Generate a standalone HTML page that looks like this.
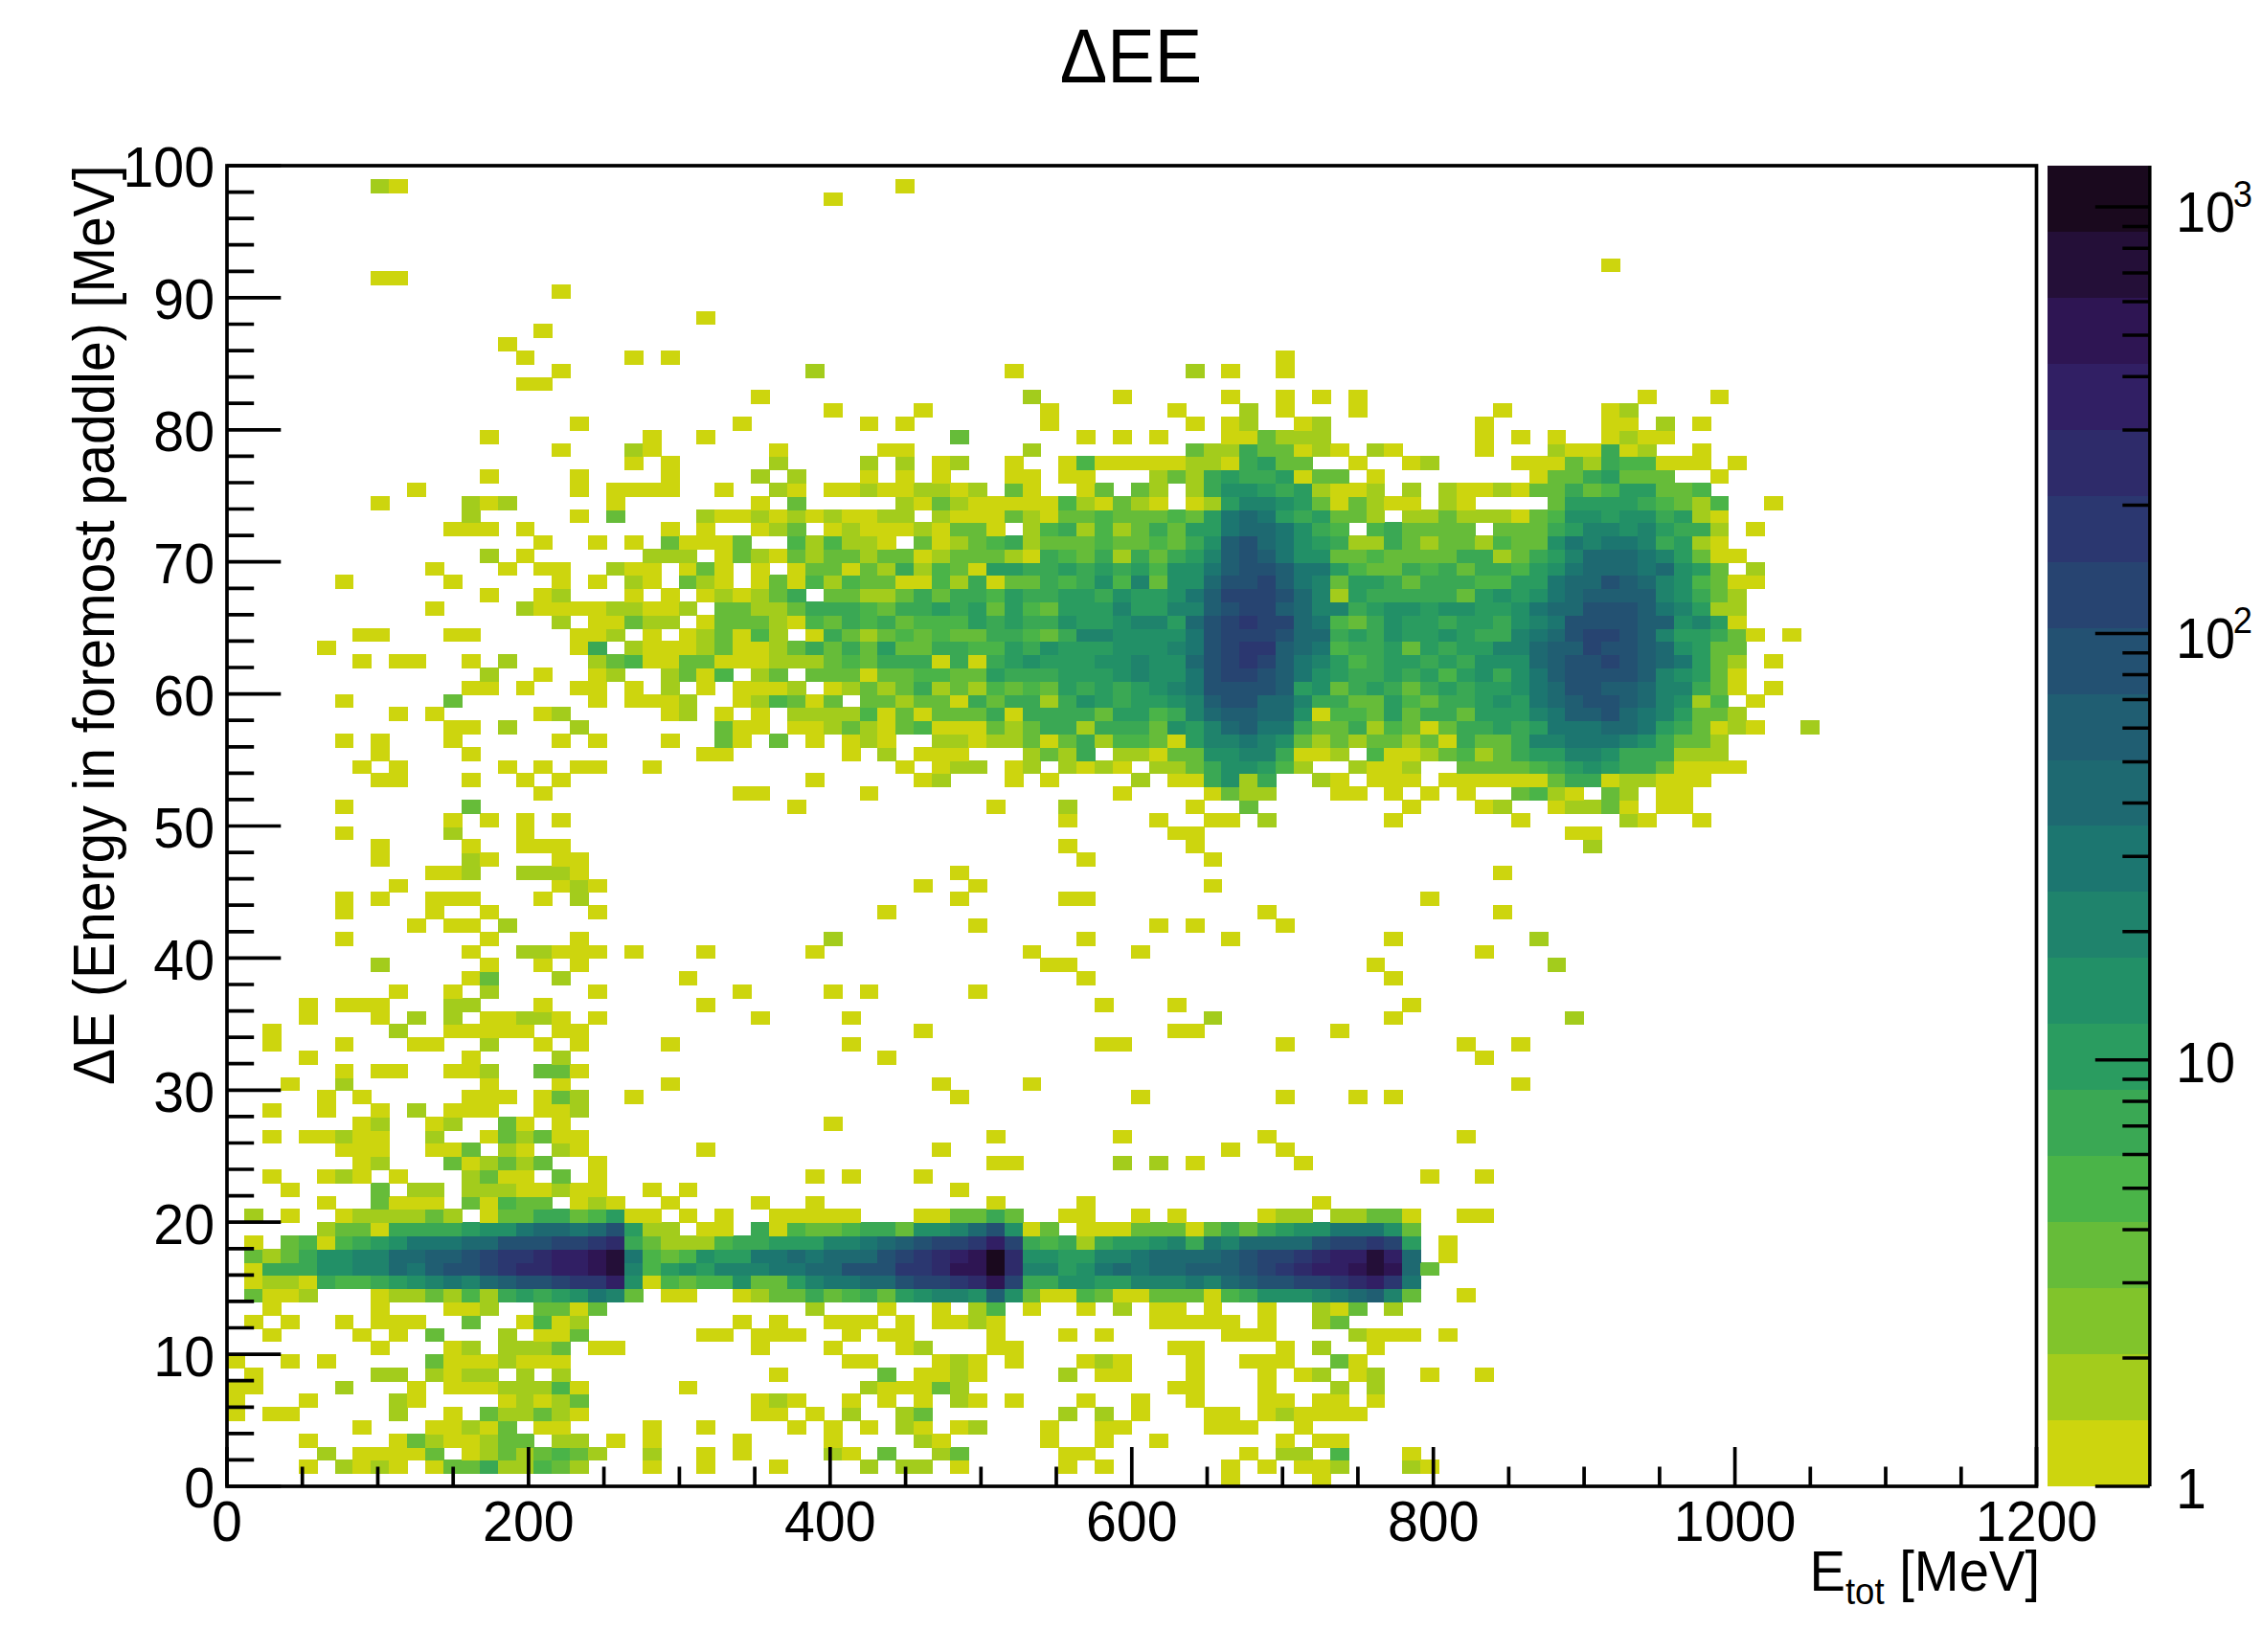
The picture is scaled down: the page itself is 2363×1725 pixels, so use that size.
<!DOCTYPE html><html><head><meta charset="utf-8"><title>ΔEE</title><style>html,body{margin:0;padding:0;background:#fff}svg{display:block}text{font-family:"Liberation Sans",sans-serif;fill:#000}</style></head><body>
<svg width="2363" height="1725" viewBox="0 0 2363 1725">
<rect width="2363" height="1725" fill="#fff"/>
<g shape-rendering="crispEdges">
<rect x="1275" y="1538" width="20" height="15" fill="#cdd50e"/>
<rect x="1370" y="1538" width="20" height="15" fill="#cdd50e"/>
<rect x="312" y="1524" width="20" height="15" fill="#cdd50e"/>
<rect x="350" y="1524" width="19" height="15" fill="#a3cc1c"/>
<rect x="368" y="1524" width="20" height="15" fill="#cdd50e"/>
<rect x="387" y="1524" width="20" height="15" fill="#a3cc1c"/>
<rect x="406" y="1524" width="20" height="15" fill="#cdd50e"/>
<rect x="444" y="1524" width="20" height="15" fill="#cdd50e"/>
<rect x="463" y="1524" width="39" height="15" fill="#66bc39"/>
<rect x="501" y="1524" width="20" height="15" fill="#3aa854"/>
<rect x="520" y="1524" width="38" height="15" fill="#a3cc1c"/>
<rect x="557" y="1524" width="20" height="15" fill="#4ab448"/>
<rect x="576" y="1524" width="20" height="15" fill="#66bc39"/>
<rect x="595" y="1524" width="20" height="15" fill="#a3cc1c"/>
<rect x="671" y="1524" width="20" height="15" fill="#cdd50e"/>
<rect x="727" y="1524" width="20" height="15" fill="#cdd50e"/>
<rect x="803" y="1524" width="20" height="15" fill="#cdd50e"/>
<rect x="898" y="1524" width="19" height="15" fill="#a3cc1c"/>
<rect x="935" y="1524" width="39" height="15" fill="#a3cc1c"/>
<rect x="992" y="1524" width="20" height="15" fill="#cdd50e"/>
<rect x="1105" y="1524" width="20" height="15" fill="#cdd50e"/>
<rect x="1143" y="1524" width="20" height="15" fill="#cdd50e"/>
<rect x="1275" y="1524" width="20" height="15" fill="#cdd50e"/>
<rect x="1313" y="1524" width="20" height="15" fill="#cdd50e"/>
<rect x="1351" y="1524" width="39" height="15" fill="#cdd50e"/>
<rect x="1389" y="1524" width="20" height="15" fill="#a3cc1c"/>
<rect x="1464" y="1524" width="20" height="15" fill="#a3cc1c"/>
<rect x="1483" y="1524" width="20" height="15" fill="#cdd50e"/>
<rect x="331" y="1511" width="20" height="14" fill="#a3cc1c"/>
<rect x="368" y="1511" width="77" height="14" fill="#cdd50e"/>
<rect x="444" y="1511" width="20" height="14" fill="#66bc39"/>
<rect x="482" y="1511" width="20" height="14" fill="#cdd50e"/>
<rect x="501" y="1511" width="20" height="14" fill="#a3cc1c"/>
<rect x="520" y="1511" width="20" height="14" fill="#66bc39"/>
<rect x="539" y="1511" width="19" height="14" fill="#a3cc1c"/>
<rect x="557" y="1511" width="20" height="14" fill="#66bc39"/>
<rect x="576" y="1511" width="20" height="14" fill="#4ab448"/>
<rect x="595" y="1511" width="20" height="14" fill="#66bc39"/>
<rect x="614" y="1511" width="20" height="14" fill="#a3cc1c"/>
<rect x="671" y="1511" width="20" height="14" fill="#a3cc1c"/>
<rect x="727" y="1511" width="20" height="14" fill="#cdd50e"/>
<rect x="765" y="1511" width="20" height="14" fill="#cdd50e"/>
<rect x="860" y="1511" width="20" height="14" fill="#a3cc1c"/>
<rect x="879" y="1511" width="20" height="14" fill="#cdd50e"/>
<rect x="916" y="1511" width="20" height="14" fill="#66bc39"/>
<rect x="973" y="1511" width="20" height="14" fill="#a3cc1c"/>
<rect x="992" y="1511" width="20" height="14" fill="#66bc39"/>
<rect x="1105" y="1511" width="39" height="14" fill="#cdd50e"/>
<rect x="1294" y="1511" width="20" height="14" fill="#cdd50e"/>
<rect x="1332" y="1511" width="39" height="14" fill="#a3cc1c"/>
<rect x="1389" y="1511" width="20" height="14" fill="#4ab448"/>
<rect x="1464" y="1511" width="20" height="14" fill="#cdd50e"/>
<rect x="312" y="1497" width="20" height="15" fill="#cdd50e"/>
<rect x="406" y="1497" width="20" height="15" fill="#cdd50e"/>
<rect x="425" y="1497" width="20" height="15" fill="#66bc39"/>
<rect x="444" y="1497" width="20" height="15" fill="#a3cc1c"/>
<rect x="463" y="1497" width="39" height="15" fill="#cdd50e"/>
<rect x="501" y="1497" width="20" height="15" fill="#a3cc1c"/>
<rect x="520" y="1497" width="38" height="15" fill="#66bc39"/>
<rect x="576" y="1497" width="39" height="15" fill="#a3cc1c"/>
<rect x="633" y="1497" width="20" height="15" fill="#cdd50e"/>
<rect x="671" y="1497" width="20" height="15" fill="#cdd50e"/>
<rect x="765" y="1497" width="20" height="15" fill="#cdd50e"/>
<rect x="860" y="1497" width="20" height="15" fill="#cdd50e"/>
<rect x="954" y="1497" width="20" height="15" fill="#a3cc1c"/>
<rect x="973" y="1497" width="20" height="15" fill="#cdd50e"/>
<rect x="1086" y="1497" width="20" height="15" fill="#cdd50e"/>
<rect x="1143" y="1497" width="20" height="15" fill="#cdd50e"/>
<rect x="1200" y="1497" width="20" height="15" fill="#cdd50e"/>
<rect x="1332" y="1497" width="20" height="15" fill="#cdd50e"/>
<rect x="1370" y="1497" width="39" height="15" fill="#cdd50e"/>
<rect x="368" y="1483" width="20" height="15" fill="#cdd50e"/>
<rect x="444" y="1483" width="39" height="15" fill="#cdd50e"/>
<rect x="482" y="1483" width="20" height="15" fill="#a3cc1c"/>
<rect x="501" y="1483" width="20" height="15" fill="#cdd50e"/>
<rect x="520" y="1483" width="20" height="15" fill="#66bc39"/>
<rect x="557" y="1483" width="39" height="15" fill="#cdd50e"/>
<rect x="671" y="1483" width="20" height="15" fill="#cdd50e"/>
<rect x="727" y="1483" width="20" height="15" fill="#cdd50e"/>
<rect x="822" y="1483" width="20" height="15" fill="#cdd50e"/>
<rect x="860" y="1483" width="20" height="15" fill="#cdd50e"/>
<rect x="898" y="1483" width="19" height="15" fill="#cdd50e"/>
<rect x="935" y="1483" width="20" height="15" fill="#a3cc1c"/>
<rect x="954" y="1483" width="20" height="15" fill="#cdd50e"/>
<rect x="992" y="1483" width="20" height="15" fill="#cdd50e"/>
<rect x="1011" y="1483" width="20" height="15" fill="#a3cc1c"/>
<rect x="1086" y="1483" width="20" height="15" fill="#cdd50e"/>
<rect x="1143" y="1483" width="39" height="15" fill="#cdd50e"/>
<rect x="1257" y="1483" width="57" height="15" fill="#cdd50e"/>
<rect x="1351" y="1483" width="20" height="15" fill="#cdd50e"/>
<rect x="236" y="1469" width="20" height="15" fill="#cdd50e"/>
<rect x="274" y="1469" width="39" height="15" fill="#cdd50e"/>
<rect x="406" y="1469" width="20" height="15" fill="#a3cc1c"/>
<rect x="463" y="1469" width="20" height="15" fill="#cdd50e"/>
<rect x="501" y="1469" width="20" height="15" fill="#66bc39"/>
<rect x="520" y="1469" width="38" height="15" fill="#a3cc1c"/>
<rect x="557" y="1469" width="20" height="15" fill="#66bc39"/>
<rect x="576" y="1469" width="20" height="15" fill="#a3cc1c"/>
<rect x="595" y="1469" width="20" height="15" fill="#cdd50e"/>
<rect x="784" y="1469" width="39" height="15" fill="#cdd50e"/>
<rect x="841" y="1469" width="20" height="15" fill="#cdd50e"/>
<rect x="879" y="1469" width="20" height="15" fill="#a3cc1c"/>
<rect x="935" y="1469" width="20" height="15" fill="#a3cc1c"/>
<rect x="954" y="1469" width="20" height="15" fill="#66bc39"/>
<rect x="1105" y="1469" width="20" height="15" fill="#a3cc1c"/>
<rect x="1143" y="1469" width="20" height="15" fill="#a3cc1c"/>
<rect x="1181" y="1469" width="20" height="15" fill="#cdd50e"/>
<rect x="1257" y="1469" width="38" height="15" fill="#cdd50e"/>
<rect x="1313" y="1469" width="20" height="15" fill="#cdd50e"/>
<rect x="1332" y="1469" width="20" height="15" fill="#a3cc1c"/>
<rect x="1351" y="1469" width="77" height="15" fill="#cdd50e"/>
<rect x="236" y="1455" width="20" height="15" fill="#cdd50e"/>
<rect x="312" y="1455" width="20" height="15" fill="#cdd50e"/>
<rect x="406" y="1455" width="20" height="15" fill="#a3cc1c"/>
<rect x="425" y="1455" width="20" height="15" fill="#cdd50e"/>
<rect x="520" y="1455" width="20" height="15" fill="#cdd50e"/>
<rect x="539" y="1455" width="19" height="15" fill="#a3cc1c"/>
<rect x="557" y="1455" width="20" height="15" fill="#cdd50e"/>
<rect x="576" y="1455" width="20" height="15" fill="#a3cc1c"/>
<rect x="595" y="1455" width="20" height="15" fill="#66bc39"/>
<rect x="784" y="1455" width="20" height="15" fill="#cdd50e"/>
<rect x="803" y="1455" width="20" height="15" fill="#a3cc1c"/>
<rect x="822" y="1455" width="20" height="15" fill="#cdd50e"/>
<rect x="879" y="1455" width="20" height="15" fill="#cdd50e"/>
<rect x="916" y="1455" width="20" height="15" fill="#cdd50e"/>
<rect x="954" y="1455" width="20" height="15" fill="#cdd50e"/>
<rect x="992" y="1455" width="20" height="15" fill="#a3cc1c"/>
<rect x="1011" y="1455" width="20" height="15" fill="#cdd50e"/>
<rect x="1049" y="1455" width="20" height="15" fill="#cdd50e"/>
<rect x="1124" y="1455" width="20" height="15" fill="#cdd50e"/>
<rect x="1181" y="1455" width="20" height="15" fill="#cdd50e"/>
<rect x="1238" y="1455" width="20" height="15" fill="#cdd50e"/>
<rect x="1313" y="1455" width="39" height="15" fill="#cdd50e"/>
<rect x="1370" y="1455" width="39" height="15" fill="#cdd50e"/>
<rect x="1427" y="1455" width="19" height="15" fill="#cdd50e"/>
<rect x="236" y="1442" width="39" height="14" fill="#cdd50e"/>
<rect x="350" y="1442" width="19" height="14" fill="#a3cc1c"/>
<rect x="425" y="1442" width="20" height="14" fill="#cdd50e"/>
<rect x="463" y="1442" width="58" height="14" fill="#cdd50e"/>
<rect x="520" y="1442" width="57" height="14" fill="#a3cc1c"/>
<rect x="576" y="1442" width="20" height="14" fill="#4ab448"/>
<rect x="595" y="1442" width="20" height="14" fill="#cdd50e"/>
<rect x="709" y="1442" width="19" height="14" fill="#cdd50e"/>
<rect x="898" y="1442" width="19" height="14" fill="#a3cc1c"/>
<rect x="916" y="1442" width="58" height="14" fill="#cdd50e"/>
<rect x="973" y="1442" width="20" height="14" fill="#66bc39"/>
<rect x="992" y="1442" width="20" height="14" fill="#a3cc1c"/>
<rect x="1219" y="1442" width="39" height="14" fill="#cdd50e"/>
<rect x="1313" y="1442" width="20" height="14" fill="#cdd50e"/>
<rect x="1389" y="1442" width="20" height="14" fill="#a3cc1c"/>
<rect x="1427" y="1442" width="19" height="14" fill="#a3cc1c"/>
<rect x="255" y="1428" width="20" height="15" fill="#cdd50e"/>
<rect x="387" y="1428" width="39" height="15" fill="#a3cc1c"/>
<rect x="444" y="1428" width="20" height="15" fill="#a3cc1c"/>
<rect x="463" y="1428" width="20" height="15" fill="#cdd50e"/>
<rect x="482" y="1428" width="39" height="15" fill="#a3cc1c"/>
<rect x="539" y="1428" width="19" height="15" fill="#a3cc1c"/>
<rect x="576" y="1428" width="20" height="15" fill="#a3cc1c"/>
<rect x="803" y="1428" width="20" height="15" fill="#cdd50e"/>
<rect x="916" y="1428" width="20" height="15" fill="#66bc39"/>
<rect x="954" y="1428" width="39" height="15" fill="#cdd50e"/>
<rect x="992" y="1428" width="20" height="15" fill="#a3cc1c"/>
<rect x="1011" y="1428" width="20" height="15" fill="#cdd50e"/>
<rect x="1105" y="1428" width="20" height="15" fill="#a3cc1c"/>
<rect x="1143" y="1428" width="39" height="15" fill="#cdd50e"/>
<rect x="1238" y="1428" width="20" height="15" fill="#cdd50e"/>
<rect x="1313" y="1428" width="20" height="15" fill="#cdd50e"/>
<rect x="1351" y="1428" width="20" height="15" fill="#cdd50e"/>
<rect x="1370" y="1428" width="20" height="15" fill="#a3cc1c"/>
<rect x="1408" y="1428" width="20" height="15" fill="#cdd50e"/>
<rect x="1427" y="1428" width="19" height="15" fill="#a3cc1c"/>
<rect x="1483" y="1428" width="20" height="15" fill="#cdd50e"/>
<rect x="1540" y="1428" width="20" height="15" fill="#cdd50e"/>
<rect x="236" y="1414" width="20" height="15" fill="#cdd50e"/>
<rect x="293" y="1414" width="20" height="15" fill="#cdd50e"/>
<rect x="331" y="1414" width="20" height="15" fill="#cdd50e"/>
<rect x="444" y="1414" width="20" height="15" fill="#66bc39"/>
<rect x="463" y="1414" width="58" height="15" fill="#cdd50e"/>
<rect x="520" y="1414" width="20" height="15" fill="#a3cc1c"/>
<rect x="539" y="1414" width="57" height="15" fill="#cdd50e"/>
<rect x="879" y="1414" width="38" height="15" fill="#cdd50e"/>
<rect x="973" y="1414" width="20" height="15" fill="#cdd50e"/>
<rect x="992" y="1414" width="20" height="15" fill="#a3cc1c"/>
<rect x="1011" y="1414" width="20" height="15" fill="#cdd50e"/>
<rect x="1049" y="1414" width="20" height="15" fill="#cdd50e"/>
<rect x="1124" y="1414" width="20" height="15" fill="#cdd50e"/>
<rect x="1143" y="1414" width="20" height="15" fill="#a3cc1c"/>
<rect x="1162" y="1414" width="20" height="15" fill="#cdd50e"/>
<rect x="1238" y="1414" width="20" height="15" fill="#cdd50e"/>
<rect x="1294" y="1414" width="58" height="15" fill="#cdd50e"/>
<rect x="1389" y="1414" width="20" height="15" fill="#66bc39"/>
<rect x="1408" y="1414" width="20" height="15" fill="#cdd50e"/>
<rect x="387" y="1400" width="20" height="15" fill="#cdd50e"/>
<rect x="463" y="1400" width="20" height="15" fill="#cdd50e"/>
<rect x="482" y="1400" width="20" height="15" fill="#a3cc1c"/>
<rect x="520" y="1400" width="57" height="15" fill="#a3cc1c"/>
<rect x="576" y="1400" width="20" height="15" fill="#66bc39"/>
<rect x="614" y="1400" width="39" height="15" fill="#cdd50e"/>
<rect x="784" y="1400" width="20" height="15" fill="#cdd50e"/>
<rect x="860" y="1400" width="20" height="15" fill="#cdd50e"/>
<rect x="935" y="1400" width="20" height="15" fill="#cdd50e"/>
<rect x="954" y="1400" width="20" height="15" fill="#a3cc1c"/>
<rect x="1030" y="1400" width="39" height="15" fill="#cdd50e"/>
<rect x="1219" y="1400" width="39" height="15" fill="#cdd50e"/>
<rect x="1332" y="1400" width="20" height="15" fill="#cdd50e"/>
<rect x="1370" y="1400" width="20" height="15" fill="#a3cc1c"/>
<rect x="1427" y="1400" width="19" height="15" fill="#cdd50e"/>
<rect x="274" y="1387" width="20" height="14" fill="#cdd50e"/>
<rect x="368" y="1387" width="20" height="14" fill="#cdd50e"/>
<rect x="406" y="1387" width="20" height="14" fill="#cdd50e"/>
<rect x="444" y="1387" width="20" height="14" fill="#66bc39"/>
<rect x="520" y="1387" width="20" height="14" fill="#a3cc1c"/>
<rect x="557" y="1387" width="39" height="14" fill="#cdd50e"/>
<rect x="595" y="1387" width="20" height="14" fill="#66bc39"/>
<rect x="727" y="1387" width="39" height="14" fill="#cdd50e"/>
<rect x="784" y="1387" width="58" height="14" fill="#cdd50e"/>
<rect x="879" y="1387" width="20" height="14" fill="#cdd50e"/>
<rect x="916" y="1387" width="39" height="14" fill="#cdd50e"/>
<rect x="1030" y="1387" width="20" height="14" fill="#cdd50e"/>
<rect x="1105" y="1387" width="20" height="14" fill="#cdd50e"/>
<rect x="1143" y="1387" width="20" height="14" fill="#cdd50e"/>
<rect x="1275" y="1387" width="58" height="14" fill="#cdd50e"/>
<rect x="1408" y="1387" width="20" height="14" fill="#a3cc1c"/>
<rect x="1427" y="1387" width="57" height="14" fill="#cdd50e"/>
<rect x="1502" y="1387" width="20" height="14" fill="#cdd50e"/>
<rect x="255" y="1373" width="20" height="15" fill="#cdd50e"/>
<rect x="293" y="1373" width="20" height="15" fill="#cdd50e"/>
<rect x="350" y="1373" width="19" height="15" fill="#cdd50e"/>
<rect x="387" y="1373" width="58" height="15" fill="#cdd50e"/>
<rect x="482" y="1373" width="20" height="15" fill="#66bc39"/>
<rect x="539" y="1373" width="19" height="15" fill="#cdd50e"/>
<rect x="557" y="1373" width="20" height="15" fill="#4ab448"/>
<rect x="576" y="1373" width="20" height="15" fill="#cdd50e"/>
<rect x="595" y="1373" width="20" height="15" fill="#a3cc1c"/>
<rect x="765" y="1373" width="20" height="15" fill="#cdd50e"/>
<rect x="803" y="1373" width="20" height="15" fill="#cdd50e"/>
<rect x="860" y="1373" width="57" height="15" fill="#cdd50e"/>
<rect x="935" y="1373" width="20" height="15" fill="#cdd50e"/>
<rect x="973" y="1373" width="39" height="15" fill="#cdd50e"/>
<rect x="1011" y="1373" width="20" height="15" fill="#a3cc1c"/>
<rect x="1030" y="1373" width="20" height="15" fill="#cdd50e"/>
<rect x="1200" y="1373" width="95" height="15" fill="#cdd50e"/>
<rect x="1313" y="1373" width="20" height="15" fill="#cdd50e"/>
<rect x="1370" y="1373" width="20" height="15" fill="#a3cc1c"/>
<rect x="1389" y="1373" width="20" height="15" fill="#66bc39"/>
<rect x="274" y="1359" width="20" height="15" fill="#cdd50e"/>
<rect x="387" y="1359" width="20" height="15" fill="#cdd50e"/>
<rect x="463" y="1359" width="39" height="15" fill="#cdd50e"/>
<rect x="501" y="1359" width="20" height="15" fill="#a3cc1c"/>
<rect x="557" y="1359" width="39" height="15" fill="#66bc39"/>
<rect x="595" y="1359" width="20" height="15" fill="#cdd50e"/>
<rect x="614" y="1359" width="20" height="15" fill="#66bc39"/>
<rect x="841" y="1359" width="20" height="15" fill="#a3cc1c"/>
<rect x="916" y="1359" width="20" height="15" fill="#cdd50e"/>
<rect x="973" y="1359" width="20" height="15" fill="#cdd50e"/>
<rect x="1011" y="1359" width="20" height="15" fill="#a3cc1c"/>
<rect x="1030" y="1359" width="20" height="15" fill="#4ab448"/>
<rect x="1068" y="1359" width="19" height="15" fill="#cdd50e"/>
<rect x="1124" y="1359" width="20" height="15" fill="#cdd50e"/>
<rect x="1162" y="1359" width="20" height="15" fill="#a3cc1c"/>
<rect x="1200" y="1359" width="39" height="15" fill="#cdd50e"/>
<rect x="1257" y="1359" width="19" height="15" fill="#cdd50e"/>
<rect x="1313" y="1359" width="20" height="15" fill="#cdd50e"/>
<rect x="1370" y="1359" width="20" height="15" fill="#a3cc1c"/>
<rect x="1389" y="1359" width="20" height="15" fill="#cdd50e"/>
<rect x="1408" y="1359" width="20" height="15" fill="#66bc39"/>
<rect x="1445" y="1359" width="20" height="15" fill="#a3cc1c"/>
<rect x="255" y="1345" width="20" height="15" fill="#66bc39"/>
<rect x="274" y="1345" width="39" height="15" fill="#cdd50e"/>
<rect x="312" y="1345" width="20" height="15" fill="#a3cc1c"/>
<rect x="387" y="1345" width="20" height="15" fill="#cdd50e"/>
<rect x="406" y="1345" width="39" height="15" fill="#a3cc1c"/>
<rect x="444" y="1345" width="20" height="15" fill="#66bc39"/>
<rect x="463" y="1345" width="20" height="15" fill="#a3cc1c"/>
<rect x="482" y="1345" width="20" height="15" fill="#4ab448"/>
<rect x="501" y="1345" width="20" height="15" fill="#a3cc1c"/>
<rect x="520" y="1345" width="20" height="15" fill="#3aa854"/>
<rect x="539" y="1345" width="19" height="15" fill="#2a9c60"/>
<rect x="557" y="1345" width="20" height="15" fill="#3aa854"/>
<rect x="576" y="1345" width="20" height="15" fill="#2a9c60"/>
<rect x="595" y="1345" width="20" height="15" fill="#229067"/>
<rect x="614" y="1345" width="20" height="15" fill="#1c7670"/>
<rect x="633" y="1345" width="20" height="15" fill="#1f836c"/>
<rect x="652" y="1345" width="20" height="15" fill="#66bc39"/>
<rect x="690" y="1345" width="38" height="15" fill="#cdd50e"/>
<rect x="765" y="1345" width="20" height="15" fill="#cdd50e"/>
<rect x="784" y="1345" width="20" height="15" fill="#a3cc1c"/>
<rect x="803" y="1345" width="39" height="15" fill="#66bc39"/>
<rect x="841" y="1345" width="20" height="15" fill="#3aa854"/>
<rect x="860" y="1345" width="20" height="15" fill="#66bc39"/>
<rect x="879" y="1345" width="20" height="15" fill="#4ab448"/>
<rect x="898" y="1345" width="19" height="15" fill="#3aa854"/>
<rect x="916" y="1345" width="20" height="15" fill="#66bc39"/>
<rect x="935" y="1345" width="20" height="15" fill="#2a9c60"/>
<rect x="954" y="1345" width="20" height="15" fill="#229067"/>
<rect x="973" y="1345" width="39" height="15" fill="#1f836c"/>
<rect x="1011" y="1345" width="20" height="15" fill="#229067"/>
<rect x="1030" y="1345" width="20" height="15" fill="#205e72"/>
<rect x="1049" y="1345" width="20" height="15" fill="#229067"/>
<rect x="1068" y="1345" width="19" height="15" fill="#66bc39"/>
<rect x="1086" y="1345" width="39" height="15" fill="#cdd50e"/>
<rect x="1124" y="1345" width="20" height="15" fill="#4ab448"/>
<rect x="1143" y="1345" width="20" height="15" fill="#66bc39"/>
<rect x="1162" y="1345" width="39" height="15" fill="#cdd50e"/>
<rect x="1200" y="1345" width="58" height="15" fill="#66bc39"/>
<rect x="1257" y="1345" width="19" height="15" fill="#cdd50e"/>
<rect x="1275" y="1345" width="20" height="15" fill="#4ab448"/>
<rect x="1294" y="1345" width="20" height="15" fill="#3aa854"/>
<rect x="1313" y="1345" width="58" height="15" fill="#229067"/>
<rect x="1370" y="1345" width="20" height="15" fill="#1f836c"/>
<rect x="1389" y="1345" width="20" height="15" fill="#1c7670"/>
<rect x="1408" y="1345" width="20" height="15" fill="#1e6971"/>
<rect x="1427" y="1345" width="19" height="15" fill="#205e72"/>
<rect x="1445" y="1345" width="20" height="15" fill="#1f836c"/>
<rect x="1464" y="1345" width="20" height="15" fill="#66bc39"/>
<rect x="1521" y="1345" width="20" height="15" fill="#cdd50e"/>
<rect x="255" y="1331" width="20" height="15" fill="#cdd50e"/>
<rect x="274" y="1331" width="39" height="15" fill="#a3cc1c"/>
<rect x="312" y="1331" width="20" height="15" fill="#cdd50e"/>
<rect x="331" y="1331" width="20" height="15" fill="#3aa854"/>
<rect x="350" y="1331" width="38" height="15" fill="#4ab448"/>
<rect x="387" y="1331" width="20" height="15" fill="#3aa854"/>
<rect x="406" y="1331" width="20" height="15" fill="#2a9c60"/>
<rect x="425" y="1331" width="20" height="15" fill="#229067"/>
<rect x="444" y="1331" width="20" height="15" fill="#1f836c"/>
<rect x="463" y="1331" width="20" height="15" fill="#1c7670"/>
<rect x="482" y="1331" width="20" height="15" fill="#1f836c"/>
<rect x="501" y="1331" width="20" height="15" fill="#1e6971"/>
<rect x="520" y="1331" width="20" height="15" fill="#205e72"/>
<rect x="539" y="1331" width="38" height="15" fill="#235172"/>
<rect x="576" y="1331" width="20" height="15" fill="#274471"/>
<rect x="595" y="1331" width="39" height="15" fill="#2b3770"/>
<rect x="633" y="1331" width="20" height="15" fill="#311f64"/>
<rect x="652" y="1331" width="20" height="15" fill="#229067"/>
<rect x="671" y="1331" width="20" height="15" fill="#cdd50e"/>
<rect x="690" y="1331" width="20" height="15" fill="#4ab448"/>
<rect x="709" y="1331" width="19" height="15" fill="#66bc39"/>
<rect x="727" y="1331" width="39" height="15" fill="#4ab448"/>
<rect x="765" y="1331" width="20" height="15" fill="#229067"/>
<rect x="784" y="1331" width="39" height="15" fill="#66bc39"/>
<rect x="822" y="1331" width="20" height="15" fill="#2a9c60"/>
<rect x="841" y="1331" width="20" height="15" fill="#1f836c"/>
<rect x="860" y="1331" width="39" height="15" fill="#1c7670"/>
<rect x="898" y="1331" width="38" height="15" fill="#1e6971"/>
<rect x="935" y="1331" width="20" height="15" fill="#235172"/>
<rect x="954" y="1331" width="39" height="15" fill="#274471"/>
<rect x="992" y="1331" width="20" height="15" fill="#2b3770"/>
<rect x="1011" y="1331" width="20" height="15" fill="#2e2b6a"/>
<rect x="1030" y="1331" width="20" height="15" fill="#2e1553"/>
<rect x="1049" y="1331" width="20" height="15" fill="#274471"/>
<rect x="1068" y="1331" width="38" height="15" fill="#3aa854"/>
<rect x="1105" y="1331" width="39" height="15" fill="#229067"/>
<rect x="1143" y="1331" width="39" height="15" fill="#2a9c60"/>
<rect x="1181" y="1331" width="58" height="15" fill="#1f836c"/>
<rect x="1238" y="1331" width="20" height="15" fill="#1c7670"/>
<rect x="1257" y="1331" width="19" height="15" fill="#1f836c"/>
<rect x="1275" y="1331" width="20" height="15" fill="#1e6971"/>
<rect x="1294" y="1331" width="20" height="15" fill="#205e72"/>
<rect x="1313" y="1331" width="39" height="15" fill="#235172"/>
<rect x="1351" y="1331" width="39" height="15" fill="#274471"/>
<rect x="1389" y="1331" width="20" height="15" fill="#2b3770"/>
<rect x="1408" y="1331" width="20" height="15" fill="#2e2b6a"/>
<rect x="1427" y="1331" width="19" height="15" fill="#311f64"/>
<rect x="1445" y="1331" width="20" height="15" fill="#2b3770"/>
<rect x="1464" y="1331" width="20" height="15" fill="#1c7670"/>
<rect x="255" y="1318" width="20" height="14" fill="#cdd50e"/>
<rect x="274" y="1318" width="58" height="14" fill="#3aa854"/>
<rect x="331" y="1318" width="38" height="14" fill="#229067"/>
<rect x="368" y="1318" width="39" height="14" fill="#1f836c"/>
<rect x="406" y="1318" width="20" height="14" fill="#1e6971"/>
<rect x="425" y="1318" width="20" height="14" fill="#1c7670"/>
<rect x="444" y="1318" width="20" height="14" fill="#205e72"/>
<rect x="463" y="1318" width="39" height="14" fill="#235172"/>
<rect x="501" y="1318" width="20" height="14" fill="#274471"/>
<rect x="520" y="1318" width="20" height="14" fill="#2b3770"/>
<rect x="539" y="1318" width="38" height="14" fill="#2e2b6a"/>
<rect x="576" y="1318" width="39" height="14" fill="#311f64"/>
<rect x="614" y="1318" width="20" height="14" fill="#2e1553"/>
<rect x="633" y="1318" width="20" height="14" fill="#240f38"/>
<rect x="652" y="1318" width="20" height="14" fill="#1f836c"/>
<rect x="671" y="1318" width="20" height="14" fill="#4ab448"/>
<rect x="690" y="1318" width="20" height="14" fill="#2a9c60"/>
<rect x="709" y="1318" width="19" height="14" fill="#229067"/>
<rect x="727" y="1318" width="20" height="14" fill="#2a9c60"/>
<rect x="746" y="1318" width="58" height="14" fill="#1f836c"/>
<rect x="803" y="1318" width="39" height="14" fill="#1c7670"/>
<rect x="841" y="1318" width="39" height="14" fill="#1e6971"/>
<rect x="879" y="1318" width="57" height="14" fill="#235172"/>
<rect x="935" y="1318" width="39" height="14" fill="#2b3770"/>
<rect x="973" y="1318" width="20" height="14" fill="#2e2b6a"/>
<rect x="992" y="1318" width="39" height="14" fill="#2e1553"/>
<rect x="1030" y="1318" width="20" height="14" fill="#1a091e"/>
<rect x="1049" y="1318" width="20" height="14" fill="#2e2b6a"/>
<rect x="1068" y="1318" width="38" height="14" fill="#1f836c"/>
<rect x="1105" y="1318" width="20" height="14" fill="#2a9c60"/>
<rect x="1124" y="1318" width="20" height="14" fill="#229067"/>
<rect x="1143" y="1318" width="20" height="14" fill="#1c7670"/>
<rect x="1162" y="1318" width="20" height="14" fill="#1e6971"/>
<rect x="1181" y="1318" width="20" height="14" fill="#1c7670"/>
<rect x="1200" y="1318" width="39" height="14" fill="#1e6971"/>
<rect x="1238" y="1318" width="57" height="14" fill="#205e72"/>
<rect x="1294" y="1318" width="20" height="14" fill="#235172"/>
<rect x="1313" y="1318" width="20" height="14" fill="#274471"/>
<rect x="1332" y="1318" width="20" height="14" fill="#2b3770"/>
<rect x="1351" y="1318" width="20" height="14" fill="#2e2b6a"/>
<rect x="1370" y="1318" width="39" height="14" fill="#311f64"/>
<rect x="1408" y="1318" width="20" height="14" fill="#2e1553"/>
<rect x="1427" y="1318" width="19" height="14" fill="#240f38"/>
<rect x="1445" y="1318" width="20" height="14" fill="#2e1553"/>
<rect x="1464" y="1318" width="20" height="14" fill="#1e6971"/>
<rect x="1483" y="1318" width="20" height="14" fill="#66bc39"/>
<rect x="255" y="1304" width="20" height="15" fill="#66bc39"/>
<rect x="274" y="1304" width="20" height="15" fill="#a3cc1c"/>
<rect x="293" y="1304" width="20" height="15" fill="#66bc39"/>
<rect x="312" y="1304" width="20" height="15" fill="#3aa854"/>
<rect x="331" y="1304" width="38" height="15" fill="#229067"/>
<rect x="368" y="1304" width="39" height="15" fill="#1f836c"/>
<rect x="406" y="1304" width="39" height="15" fill="#1e6971"/>
<rect x="444" y="1304" width="39" height="15" fill="#205e72"/>
<rect x="482" y="1304" width="20" height="15" fill="#235172"/>
<rect x="501" y="1304" width="20" height="15" fill="#274471"/>
<rect x="520" y="1304" width="38" height="15" fill="#2b3770"/>
<rect x="557" y="1304" width="20" height="15" fill="#2e2b6a"/>
<rect x="576" y="1304" width="39" height="15" fill="#311f64"/>
<rect x="614" y="1304" width="20" height="15" fill="#2e1553"/>
<rect x="633" y="1304" width="20" height="15" fill="#240f38"/>
<rect x="652" y="1304" width="20" height="15" fill="#1c7670"/>
<rect x="671" y="1304" width="20" height="15" fill="#4ab448"/>
<rect x="690" y="1304" width="20" height="15" fill="#66bc39"/>
<rect x="709" y="1304" width="19" height="15" fill="#4ab448"/>
<rect x="727" y="1304" width="20" height="15" fill="#229067"/>
<rect x="746" y="1304" width="39" height="15" fill="#2a9c60"/>
<rect x="784" y="1304" width="39" height="15" fill="#1c7670"/>
<rect x="822" y="1304" width="20" height="15" fill="#1e6971"/>
<rect x="841" y="1304" width="20" height="15" fill="#1c7670"/>
<rect x="860" y="1304" width="57" height="15" fill="#1e6971"/>
<rect x="916" y="1304" width="20" height="15" fill="#235172"/>
<rect x="935" y="1304" width="20" height="15" fill="#274471"/>
<rect x="954" y="1304" width="20" height="15" fill="#2b3770"/>
<rect x="973" y="1304" width="20" height="15" fill="#2e2b6a"/>
<rect x="992" y="1304" width="20" height="15" fill="#311f64"/>
<rect x="1011" y="1304" width="20" height="15" fill="#2e1553"/>
<rect x="1030" y="1304" width="20" height="15" fill="#1a091e"/>
<rect x="1049" y="1304" width="20" height="15" fill="#2e2b6a"/>
<rect x="1068" y="1304" width="38" height="15" fill="#229067"/>
<rect x="1105" y="1304" width="39" height="15" fill="#2a9c60"/>
<rect x="1143" y="1304" width="39" height="15" fill="#1f836c"/>
<rect x="1181" y="1304" width="20" height="15" fill="#1c7670"/>
<rect x="1200" y="1304" width="76" height="15" fill="#1e6971"/>
<rect x="1275" y="1304" width="20" height="15" fill="#205e72"/>
<rect x="1294" y="1304" width="20" height="15" fill="#235172"/>
<rect x="1313" y="1304" width="39" height="15" fill="#274471"/>
<rect x="1351" y="1304" width="20" height="15" fill="#2b3770"/>
<rect x="1370" y="1304" width="20" height="15" fill="#2e2b6a"/>
<rect x="1389" y="1304" width="39" height="15" fill="#311f64"/>
<rect x="1427" y="1304" width="19" height="15" fill="#240f38"/>
<rect x="1445" y="1304" width="20" height="15" fill="#311f64"/>
<rect x="1464" y="1304" width="20" height="15" fill="#1e6971"/>
<rect x="1502" y="1304" width="20" height="15" fill="#cdd50e"/>
<rect x="255" y="1290" width="20" height="15" fill="#cdd50e"/>
<rect x="293" y="1290" width="20" height="15" fill="#66bc39"/>
<rect x="312" y="1290" width="20" height="15" fill="#4ab448"/>
<rect x="331" y="1290" width="20" height="15" fill="#cdd50e"/>
<rect x="350" y="1290" width="19" height="15" fill="#4ab448"/>
<rect x="368" y="1290" width="20" height="15" fill="#3aa854"/>
<rect x="387" y="1290" width="20" height="15" fill="#2a9c60"/>
<rect x="406" y="1290" width="20" height="15" fill="#229067"/>
<rect x="425" y="1290" width="58" height="15" fill="#1c7670"/>
<rect x="482" y="1290" width="39" height="15" fill="#1e6971"/>
<rect x="520" y="1290" width="57" height="15" fill="#235172"/>
<rect x="576" y="1290" width="39" height="15" fill="#274471"/>
<rect x="614" y="1290" width="20" height="15" fill="#2b3770"/>
<rect x="633" y="1290" width="20" height="15" fill="#2e2b6a"/>
<rect x="652" y="1290" width="20" height="15" fill="#3aa854"/>
<rect x="671" y="1290" width="20" height="15" fill="#66bc39"/>
<rect x="690" y="1290" width="57" height="15" fill="#a3cc1c"/>
<rect x="746" y="1290" width="20" height="15" fill="#4ab448"/>
<rect x="765" y="1290" width="39" height="15" fill="#3aa854"/>
<rect x="803" y="1290" width="58" height="15" fill="#2a9c60"/>
<rect x="860" y="1290" width="39" height="15" fill="#1f836c"/>
<rect x="898" y="1290" width="19" height="15" fill="#1c7670"/>
<rect x="916" y="1290" width="20" height="15" fill="#1e6971"/>
<rect x="935" y="1290" width="20" height="15" fill="#205e72"/>
<rect x="954" y="1290" width="20" height="15" fill="#235172"/>
<rect x="973" y="1290" width="39" height="15" fill="#274471"/>
<rect x="1011" y="1290" width="20" height="15" fill="#2b3770"/>
<rect x="1030" y="1290" width="20" height="15" fill="#311f64"/>
<rect x="1049" y="1290" width="20" height="15" fill="#274471"/>
<rect x="1068" y="1290" width="19" height="15" fill="#3aa854"/>
<rect x="1086" y="1290" width="20" height="15" fill="#4ab448"/>
<rect x="1105" y="1290" width="20" height="15" fill="#3aa854"/>
<rect x="1124" y="1290" width="20" height="15" fill="#a3cc1c"/>
<rect x="1143" y="1290" width="20" height="15" fill="#3aa854"/>
<rect x="1162" y="1290" width="39" height="15" fill="#2a9c60"/>
<rect x="1200" y="1290" width="20" height="15" fill="#229067"/>
<rect x="1219" y="1290" width="20" height="15" fill="#1f836c"/>
<rect x="1238" y="1290" width="20" height="15" fill="#3aa854"/>
<rect x="1257" y="1290" width="19" height="15" fill="#1c7670"/>
<rect x="1275" y="1290" width="20" height="15" fill="#1f836c"/>
<rect x="1294" y="1290" width="77" height="15" fill="#1e6971"/>
<rect x="1370" y="1290" width="20" height="15" fill="#235172"/>
<rect x="1389" y="1290" width="39" height="15" fill="#274471"/>
<rect x="1427" y="1290" width="19" height="15" fill="#2b3770"/>
<rect x="1445" y="1290" width="20" height="15" fill="#274471"/>
<rect x="1464" y="1290" width="20" height="15" fill="#2a9c60"/>
<rect x="1502" y="1290" width="20" height="15" fill="#cdd50e"/>
<rect x="331" y="1276" width="20" height="15" fill="#a3cc1c"/>
<rect x="350" y="1276" width="38" height="15" fill="#66bc39"/>
<rect x="387" y="1276" width="20" height="15" fill="#cdd50e"/>
<rect x="406" y="1276" width="77" height="15" fill="#3aa854"/>
<rect x="482" y="1276" width="20" height="15" fill="#2a9c60"/>
<rect x="501" y="1276" width="39" height="15" fill="#229067"/>
<rect x="539" y="1276" width="19" height="15" fill="#1c7670"/>
<rect x="557" y="1276" width="39" height="15" fill="#1e6971"/>
<rect x="595" y="1276" width="20" height="15" fill="#1c7670"/>
<rect x="614" y="1276" width="20" height="15" fill="#1e6971"/>
<rect x="633" y="1276" width="20" height="15" fill="#235172"/>
<rect x="652" y="1276" width="20" height="15" fill="#2a9c60"/>
<rect x="671" y="1276" width="39" height="15" fill="#a3cc1c"/>
<rect x="727" y="1276" width="39" height="15" fill="#cdd50e"/>
<rect x="784" y="1276" width="20" height="15" fill="#3aa854"/>
<rect x="803" y="1276" width="20" height="15" fill="#cdd50e"/>
<rect x="822" y="1276" width="20" height="15" fill="#4ab448"/>
<rect x="841" y="1276" width="39" height="15" fill="#66bc39"/>
<rect x="879" y="1276" width="20" height="15" fill="#4ab448"/>
<rect x="898" y="1276" width="38" height="15" fill="#3aa854"/>
<rect x="935" y="1276" width="20" height="15" fill="#66bc39"/>
<rect x="954" y="1276" width="39" height="15" fill="#229067"/>
<rect x="992" y="1276" width="20" height="15" fill="#1f836c"/>
<rect x="1011" y="1276" width="20" height="15" fill="#1e6971"/>
<rect x="1030" y="1276" width="20" height="15" fill="#235172"/>
<rect x="1049" y="1276" width="20" height="15" fill="#229067"/>
<rect x="1068" y="1276" width="19" height="15" fill="#cdd50e"/>
<rect x="1086" y="1276" width="20" height="15" fill="#66bc39"/>
<rect x="1124" y="1276" width="58" height="15" fill="#cdd50e"/>
<rect x="1181" y="1276" width="58" height="15" fill="#66bc39"/>
<rect x="1238" y="1276" width="20" height="15" fill="#cdd50e"/>
<rect x="1257" y="1276" width="19" height="15" fill="#66bc39"/>
<rect x="1275" y="1276" width="20" height="15" fill="#3aa854"/>
<rect x="1294" y="1276" width="20" height="15" fill="#66bc39"/>
<rect x="1313" y="1276" width="20" height="15" fill="#3aa854"/>
<rect x="1332" y="1276" width="20" height="15" fill="#2a9c60"/>
<rect x="1351" y="1276" width="39" height="15" fill="#229067"/>
<rect x="1389" y="1276" width="57" height="15" fill="#1c7670"/>
<rect x="1445" y="1276" width="20" height="15" fill="#229067"/>
<rect x="1464" y="1276" width="20" height="15" fill="#66bc39"/>
<rect x="255" y="1262" width="20" height="15" fill="#a3cc1c"/>
<rect x="293" y="1262" width="20" height="15" fill="#cdd50e"/>
<rect x="350" y="1262" width="19" height="15" fill="#cdd50e"/>
<rect x="368" y="1262" width="77" height="15" fill="#a3cc1c"/>
<rect x="444" y="1262" width="20" height="15" fill="#66bc39"/>
<rect x="463" y="1262" width="20" height="15" fill="#a3cc1c"/>
<rect x="501" y="1262" width="20" height="15" fill="#cdd50e"/>
<rect x="520" y="1262" width="38" height="15" fill="#66bc39"/>
<rect x="557" y="1262" width="39" height="15" fill="#3aa854"/>
<rect x="595" y="1262" width="20" height="15" fill="#66bc39"/>
<rect x="614" y="1262" width="20" height="15" fill="#4ab448"/>
<rect x="633" y="1262" width="20" height="15" fill="#2a9c60"/>
<rect x="652" y="1262" width="39" height="15" fill="#cdd50e"/>
<rect x="709" y="1262" width="19" height="15" fill="#cdd50e"/>
<rect x="746" y="1262" width="20" height="15" fill="#cdd50e"/>
<rect x="803" y="1262" width="96" height="15" fill="#cdd50e"/>
<rect x="954" y="1262" width="39" height="15" fill="#cdd50e"/>
<rect x="992" y="1262" width="39" height="15" fill="#66bc39"/>
<rect x="1030" y="1262" width="20" height="15" fill="#3aa854"/>
<rect x="1049" y="1262" width="20" height="15" fill="#66bc39"/>
<rect x="1105" y="1262" width="39" height="15" fill="#cdd50e"/>
<rect x="1181" y="1262" width="20" height="15" fill="#cdd50e"/>
<rect x="1219" y="1262" width="20" height="15" fill="#cdd50e"/>
<rect x="1313" y="1262" width="20" height="15" fill="#cdd50e"/>
<rect x="1332" y="1262" width="39" height="15" fill="#a3cc1c"/>
<rect x="1389" y="1262" width="39" height="15" fill="#a3cc1c"/>
<rect x="1427" y="1262" width="38" height="15" fill="#66bc39"/>
<rect x="1464" y="1262" width="20" height="15" fill="#cdd50e"/>
<rect x="1521" y="1262" width="39" height="15" fill="#cdd50e"/>
<rect x="331" y="1249" width="20" height="14" fill="#cdd50e"/>
<rect x="387" y="1249" width="20" height="14" fill="#66bc39"/>
<rect x="406" y="1249" width="58" height="14" fill="#cdd50e"/>
<rect x="482" y="1249" width="20" height="14" fill="#66bc39"/>
<rect x="501" y="1249" width="20" height="14" fill="#cdd50e"/>
<rect x="520" y="1249" width="20" height="14" fill="#4ab448"/>
<rect x="539" y="1249" width="38" height="14" fill="#66bc39"/>
<rect x="595" y="1249" width="20" height="14" fill="#cdd50e"/>
<rect x="614" y="1249" width="20" height="14" fill="#a3cc1c"/>
<rect x="633" y="1249" width="20" height="14" fill="#cdd50e"/>
<rect x="690" y="1249" width="20" height="14" fill="#cdd50e"/>
<rect x="784" y="1249" width="20" height="14" fill="#cdd50e"/>
<rect x="841" y="1249" width="20" height="14" fill="#cdd50e"/>
<rect x="1030" y="1249" width="20" height="14" fill="#cdd50e"/>
<rect x="1124" y="1249" width="20" height="14" fill="#cdd50e"/>
<rect x="1370" y="1249" width="20" height="14" fill="#cdd50e"/>
<rect x="293" y="1235" width="20" height="15" fill="#cdd50e"/>
<rect x="387" y="1235" width="20" height="15" fill="#66bc39"/>
<rect x="425" y="1235" width="39" height="15" fill="#a3cc1c"/>
<rect x="482" y="1235" width="58" height="15" fill="#a3cc1c"/>
<rect x="539" y="1235" width="38" height="15" fill="#cdd50e"/>
<rect x="576" y="1235" width="20" height="15" fill="#a3cc1c"/>
<rect x="595" y="1235" width="39" height="15" fill="#cdd50e"/>
<rect x="671" y="1235" width="20" height="15" fill="#cdd50e"/>
<rect x="709" y="1235" width="19" height="15" fill="#cdd50e"/>
<rect x="992" y="1235" width="20" height="15" fill="#cdd50e"/>
<rect x="274" y="1221" width="20" height="15" fill="#cdd50e"/>
<rect x="331" y="1221" width="20" height="15" fill="#cdd50e"/>
<rect x="350" y="1221" width="19" height="15" fill="#a3cc1c"/>
<rect x="368" y="1221" width="20" height="15" fill="#cdd50e"/>
<rect x="406" y="1221" width="20" height="15" fill="#cdd50e"/>
<rect x="482" y="1221" width="20" height="15" fill="#a3cc1c"/>
<rect x="501" y="1221" width="20" height="15" fill="#66bc39"/>
<rect x="520" y="1221" width="38" height="15" fill="#cdd50e"/>
<rect x="576" y="1221" width="20" height="15" fill="#66bc39"/>
<rect x="614" y="1221" width="20" height="15" fill="#cdd50e"/>
<rect x="841" y="1221" width="20" height="15" fill="#cdd50e"/>
<rect x="879" y="1221" width="20" height="15" fill="#cdd50e"/>
<rect x="954" y="1221" width="20" height="15" fill="#cdd50e"/>
<rect x="1483" y="1221" width="20" height="15" fill="#cdd50e"/>
<rect x="1540" y="1221" width="20" height="15" fill="#cdd50e"/>
<rect x="368" y="1207" width="20" height="15" fill="#cdd50e"/>
<rect x="387" y="1207" width="20" height="15" fill="#a3cc1c"/>
<rect x="463" y="1207" width="20" height="15" fill="#66bc39"/>
<rect x="482" y="1207" width="20" height="15" fill="#cdd50e"/>
<rect x="501" y="1207" width="20" height="15" fill="#a3cc1c"/>
<rect x="520" y="1207" width="20" height="15" fill="#66bc39"/>
<rect x="539" y="1207" width="19" height="15" fill="#a3cc1c"/>
<rect x="557" y="1207" width="20" height="15" fill="#66bc39"/>
<rect x="614" y="1207" width="20" height="15" fill="#cdd50e"/>
<rect x="1030" y="1207" width="39" height="15" fill="#cdd50e"/>
<rect x="1162" y="1207" width="20" height="15" fill="#a3cc1c"/>
<rect x="1200" y="1207" width="20" height="15" fill="#a3cc1c"/>
<rect x="1238" y="1207" width="20" height="15" fill="#cdd50e"/>
<rect x="1351" y="1207" width="20" height="15" fill="#cdd50e"/>
<rect x="350" y="1193" width="57" height="15" fill="#cdd50e"/>
<rect x="444" y="1193" width="39" height="15" fill="#cdd50e"/>
<rect x="482" y="1193" width="20" height="15" fill="#66bc39"/>
<rect x="520" y="1193" width="20" height="15" fill="#a3cc1c"/>
<rect x="539" y="1193" width="19" height="15" fill="#cdd50e"/>
<rect x="576" y="1193" width="20" height="15" fill="#a3cc1c"/>
<rect x="595" y="1193" width="20" height="15" fill="#cdd50e"/>
<rect x="727" y="1193" width="20" height="15" fill="#cdd50e"/>
<rect x="973" y="1193" width="20" height="15" fill="#cdd50e"/>
<rect x="1275" y="1193" width="20" height="15" fill="#cdd50e"/>
<rect x="1332" y="1193" width="20" height="15" fill="#cdd50e"/>
<rect x="274" y="1180" width="20" height="14" fill="#cdd50e"/>
<rect x="312" y="1180" width="39" height="14" fill="#cdd50e"/>
<rect x="350" y="1180" width="19" height="14" fill="#a3cc1c"/>
<rect x="368" y="1180" width="39" height="14" fill="#cdd50e"/>
<rect x="444" y="1180" width="20" height="14" fill="#a3cc1c"/>
<rect x="501" y="1180" width="20" height="14" fill="#cdd50e"/>
<rect x="520" y="1180" width="20" height="14" fill="#66bc39"/>
<rect x="539" y="1180" width="19" height="14" fill="#a3cc1c"/>
<rect x="557" y="1180" width="20" height="14" fill="#66bc39"/>
<rect x="576" y="1180" width="39" height="14" fill="#cdd50e"/>
<rect x="1030" y="1180" width="20" height="14" fill="#cdd50e"/>
<rect x="1162" y="1180" width="20" height="14" fill="#cdd50e"/>
<rect x="1313" y="1180" width="20" height="14" fill="#cdd50e"/>
<rect x="1521" y="1180" width="20" height="14" fill="#cdd50e"/>
<rect x="368" y="1166" width="20" height="15" fill="#cdd50e"/>
<rect x="387" y="1166" width="20" height="15" fill="#a3cc1c"/>
<rect x="444" y="1166" width="20" height="15" fill="#cdd50e"/>
<rect x="463" y="1166" width="20" height="15" fill="#a3cc1c"/>
<rect x="520" y="1166" width="20" height="15" fill="#66bc39"/>
<rect x="539" y="1166" width="19" height="15" fill="#cdd50e"/>
<rect x="576" y="1166" width="20" height="15" fill="#cdd50e"/>
<rect x="860" y="1166" width="20" height="15" fill="#cdd50e"/>
<rect x="274" y="1152" width="20" height="15" fill="#cdd50e"/>
<rect x="331" y="1152" width="20" height="15" fill="#cdd50e"/>
<rect x="387" y="1152" width="20" height="15" fill="#cdd50e"/>
<rect x="425" y="1152" width="20" height="15" fill="#a3cc1c"/>
<rect x="463" y="1152" width="58" height="15" fill="#cdd50e"/>
<rect x="557" y="1152" width="39" height="15" fill="#cdd50e"/>
<rect x="595" y="1152" width="20" height="15" fill="#a3cc1c"/>
<rect x="331" y="1138" width="20" height="15" fill="#cdd50e"/>
<rect x="368" y="1138" width="20" height="15" fill="#cdd50e"/>
<rect x="482" y="1138" width="58" height="15" fill="#cdd50e"/>
<rect x="557" y="1138" width="20" height="15" fill="#cdd50e"/>
<rect x="576" y="1138" width="20" height="15" fill="#66bc39"/>
<rect x="595" y="1138" width="20" height="15" fill="#a3cc1c"/>
<rect x="652" y="1138" width="20" height="15" fill="#cdd50e"/>
<rect x="992" y="1138" width="20" height="15" fill="#cdd50e"/>
<rect x="1181" y="1138" width="20" height="15" fill="#cdd50e"/>
<rect x="1332" y="1138" width="20" height="15" fill="#cdd50e"/>
<rect x="1408" y="1138" width="20" height="15" fill="#cdd50e"/>
<rect x="1445" y="1138" width="20" height="15" fill="#cdd50e"/>
<rect x="293" y="1125" width="20" height="14" fill="#cdd50e"/>
<rect x="350" y="1125" width="19" height="14" fill="#a3cc1c"/>
<rect x="501" y="1125" width="20" height="14" fill="#cdd50e"/>
<rect x="576" y="1125" width="20" height="14" fill="#cdd50e"/>
<rect x="690" y="1125" width="20" height="14" fill="#cdd50e"/>
<rect x="973" y="1125" width="20" height="14" fill="#cdd50e"/>
<rect x="1068" y="1125" width="19" height="14" fill="#cdd50e"/>
<rect x="1578" y="1125" width="20" height="14" fill="#cdd50e"/>
<rect x="350" y="1111" width="19" height="15" fill="#cdd50e"/>
<rect x="387" y="1111" width="39" height="15" fill="#cdd50e"/>
<rect x="463" y="1111" width="39" height="15" fill="#cdd50e"/>
<rect x="501" y="1111" width="20" height="15" fill="#a3cc1c"/>
<rect x="557" y="1111" width="39" height="15" fill="#66bc39"/>
<rect x="595" y="1111" width="20" height="15" fill="#cdd50e"/>
<rect x="312" y="1097" width="20" height="15" fill="#cdd50e"/>
<rect x="482" y="1097" width="20" height="15" fill="#cdd50e"/>
<rect x="576" y="1097" width="20" height="15" fill="#a3cc1c"/>
<rect x="916" y="1097" width="20" height="15" fill="#cdd50e"/>
<rect x="1540" y="1097" width="20" height="15" fill="#cdd50e"/>
<rect x="274" y="1083" width="20" height="15" fill="#cdd50e"/>
<rect x="350" y="1083" width="19" height="15" fill="#cdd50e"/>
<rect x="425" y="1083" width="39" height="15" fill="#cdd50e"/>
<rect x="501" y="1083" width="20" height="15" fill="#a3cc1c"/>
<rect x="557" y="1083" width="20" height="15" fill="#cdd50e"/>
<rect x="595" y="1083" width="20" height="15" fill="#cdd50e"/>
<rect x="690" y="1083" width="20" height="15" fill="#cdd50e"/>
<rect x="879" y="1083" width="20" height="15" fill="#cdd50e"/>
<rect x="1143" y="1083" width="39" height="15" fill="#cdd50e"/>
<rect x="1332" y="1083" width="20" height="15" fill="#cdd50e"/>
<rect x="1521" y="1083" width="20" height="15" fill="#cdd50e"/>
<rect x="1578" y="1083" width="20" height="15" fill="#cdd50e"/>
<rect x="274" y="1069" width="20" height="15" fill="#cdd50e"/>
<rect x="406" y="1069" width="20" height="15" fill="#a3cc1c"/>
<rect x="463" y="1069" width="95" height="15" fill="#cdd50e"/>
<rect x="576" y="1069" width="39" height="15" fill="#cdd50e"/>
<rect x="954" y="1069" width="20" height="15" fill="#cdd50e"/>
<rect x="1219" y="1069" width="39" height="15" fill="#cdd50e"/>
<rect x="1389" y="1069" width="20" height="15" fill="#cdd50e"/>
<rect x="312" y="1056" width="20" height="14" fill="#cdd50e"/>
<rect x="387" y="1056" width="20" height="14" fill="#cdd50e"/>
<rect x="425" y="1056" width="20" height="14" fill="#a3cc1c"/>
<rect x="463" y="1056" width="20" height="14" fill="#a3cc1c"/>
<rect x="501" y="1056" width="39" height="14" fill="#cdd50e"/>
<rect x="539" y="1056" width="38" height="14" fill="#a3cc1c"/>
<rect x="576" y="1056" width="20" height="14" fill="#cdd50e"/>
<rect x="614" y="1056" width="20" height="14" fill="#cdd50e"/>
<rect x="784" y="1056" width="20" height="14" fill="#cdd50e"/>
<rect x="879" y="1056" width="20" height="14" fill="#cdd50e"/>
<rect x="1257" y="1056" width="19" height="14" fill="#a3cc1c"/>
<rect x="1445" y="1056" width="20" height="14" fill="#cdd50e"/>
<rect x="1634" y="1056" width="20" height="14" fill="#a3cc1c"/>
<rect x="312" y="1042" width="20" height="15" fill="#cdd50e"/>
<rect x="350" y="1042" width="57" height="15" fill="#cdd50e"/>
<rect x="463" y="1042" width="39" height="15" fill="#a3cc1c"/>
<rect x="557" y="1042" width="20" height="15" fill="#cdd50e"/>
<rect x="727" y="1042" width="20" height="15" fill="#cdd50e"/>
<rect x="1143" y="1042" width="20" height="15" fill="#cdd50e"/>
<rect x="1219" y="1042" width="20" height="15" fill="#cdd50e"/>
<rect x="1464" y="1042" width="20" height="15" fill="#cdd50e"/>
<rect x="406" y="1028" width="20" height="15" fill="#cdd50e"/>
<rect x="463" y="1028" width="20" height="15" fill="#cdd50e"/>
<rect x="501" y="1028" width="20" height="15" fill="#a3cc1c"/>
<rect x="614" y="1028" width="20" height="15" fill="#cdd50e"/>
<rect x="765" y="1028" width="20" height="15" fill="#cdd50e"/>
<rect x="860" y="1028" width="20" height="15" fill="#cdd50e"/>
<rect x="898" y="1028" width="19" height="15" fill="#cdd50e"/>
<rect x="1011" y="1028" width="20" height="15" fill="#cdd50e"/>
<rect x="482" y="1014" width="20" height="15" fill="#cdd50e"/>
<rect x="501" y="1014" width="20" height="15" fill="#66bc39"/>
<rect x="576" y="1014" width="20" height="15" fill="#a3cc1c"/>
<rect x="709" y="1014" width="19" height="15" fill="#cdd50e"/>
<rect x="1124" y="1014" width="20" height="15" fill="#cdd50e"/>
<rect x="1445" y="1014" width="20" height="15" fill="#cdd50e"/>
<rect x="387" y="1000" width="20" height="15" fill="#a3cc1c"/>
<rect x="501" y="1000" width="20" height="15" fill="#cdd50e"/>
<rect x="557" y="1000" width="20" height="15" fill="#cdd50e"/>
<rect x="595" y="1000" width="20" height="15" fill="#cdd50e"/>
<rect x="1086" y="1000" width="39" height="15" fill="#cdd50e"/>
<rect x="1427" y="1000" width="19" height="15" fill="#cdd50e"/>
<rect x="1616" y="1000" width="19" height="15" fill="#a3cc1c"/>
<rect x="482" y="987" width="20" height="14" fill="#cdd50e"/>
<rect x="539" y="987" width="38" height="14" fill="#a3cc1c"/>
<rect x="576" y="987" width="58" height="14" fill="#cdd50e"/>
<rect x="652" y="987" width="20" height="14" fill="#cdd50e"/>
<rect x="727" y="987" width="20" height="14" fill="#cdd50e"/>
<rect x="841" y="987" width="20" height="14" fill="#cdd50e"/>
<rect x="1068" y="987" width="19" height="14" fill="#cdd50e"/>
<rect x="1181" y="987" width="20" height="14" fill="#cdd50e"/>
<rect x="1540" y="987" width="20" height="14" fill="#cdd50e"/>
<rect x="350" y="973" width="19" height="15" fill="#cdd50e"/>
<rect x="501" y="973" width="20" height="15" fill="#cdd50e"/>
<rect x="595" y="973" width="20" height="15" fill="#cdd50e"/>
<rect x="860" y="973" width="20" height="15" fill="#a3cc1c"/>
<rect x="1124" y="973" width="20" height="15" fill="#cdd50e"/>
<rect x="1275" y="973" width="20" height="15" fill="#cdd50e"/>
<rect x="1445" y="973" width="20" height="15" fill="#cdd50e"/>
<rect x="1597" y="973" width="20" height="15" fill="#a3cc1c"/>
<rect x="425" y="959" width="20" height="15" fill="#cdd50e"/>
<rect x="463" y="959" width="39" height="15" fill="#cdd50e"/>
<rect x="520" y="959" width="20" height="15" fill="#a3cc1c"/>
<rect x="1011" y="959" width="20" height="15" fill="#cdd50e"/>
<rect x="1200" y="959" width="20" height="15" fill="#cdd50e"/>
<rect x="1238" y="959" width="20" height="15" fill="#cdd50e"/>
<rect x="1332" y="959" width="20" height="15" fill="#cdd50e"/>
<rect x="350" y="945" width="19" height="15" fill="#cdd50e"/>
<rect x="444" y="945" width="20" height="15" fill="#cdd50e"/>
<rect x="501" y="945" width="20" height="15" fill="#cdd50e"/>
<rect x="614" y="945" width="20" height="15" fill="#cdd50e"/>
<rect x="916" y="945" width="20" height="15" fill="#cdd50e"/>
<rect x="1313" y="945" width="20" height="15" fill="#cdd50e"/>
<rect x="1559" y="945" width="20" height="15" fill="#cdd50e"/>
<rect x="350" y="931" width="19" height="15" fill="#cdd50e"/>
<rect x="387" y="931" width="20" height="15" fill="#cdd50e"/>
<rect x="444" y="931" width="58" height="15" fill="#cdd50e"/>
<rect x="557" y="931" width="20" height="15" fill="#cdd50e"/>
<rect x="595" y="931" width="20" height="15" fill="#a3cc1c"/>
<rect x="992" y="931" width="20" height="15" fill="#cdd50e"/>
<rect x="1105" y="931" width="39" height="15" fill="#cdd50e"/>
<rect x="1483" y="931" width="20" height="15" fill="#cdd50e"/>
<rect x="406" y="918" width="20" height="14" fill="#cdd50e"/>
<rect x="576" y="918" width="20" height="14" fill="#cdd50e"/>
<rect x="595" y="918" width="20" height="14" fill="#a3cc1c"/>
<rect x="614" y="918" width="20" height="14" fill="#cdd50e"/>
<rect x="954" y="918" width="20" height="14" fill="#cdd50e"/>
<rect x="1011" y="918" width="20" height="14" fill="#cdd50e"/>
<rect x="1257" y="918" width="19" height="14" fill="#cdd50e"/>
<rect x="444" y="904" width="39" height="15" fill="#cdd50e"/>
<rect x="482" y="904" width="20" height="15" fill="#a3cc1c"/>
<rect x="539" y="904" width="57" height="15" fill="#a3cc1c"/>
<rect x="595" y="904" width="20" height="15" fill="#cdd50e"/>
<rect x="992" y="904" width="20" height="15" fill="#cdd50e"/>
<rect x="1559" y="904" width="20" height="15" fill="#cdd50e"/>
<rect x="387" y="890" width="20" height="15" fill="#cdd50e"/>
<rect x="482" y="890" width="20" height="15" fill="#a3cc1c"/>
<rect x="501" y="890" width="20" height="15" fill="#cdd50e"/>
<rect x="576" y="890" width="39" height="15" fill="#cdd50e"/>
<rect x="1124" y="890" width="20" height="15" fill="#cdd50e"/>
<rect x="1257" y="890" width="19" height="15" fill="#cdd50e"/>
<rect x="387" y="876" width="20" height="15" fill="#cdd50e"/>
<rect x="482" y="876" width="20" height="15" fill="#cdd50e"/>
<rect x="539" y="876" width="57" height="15" fill="#cdd50e"/>
<rect x="1105" y="876" width="20" height="15" fill="#cdd50e"/>
<rect x="1238" y="876" width="20" height="15" fill="#cdd50e"/>
<rect x="1653" y="876" width="20" height="15" fill="#a3cc1c"/>
<rect x="350" y="863" width="19" height="14" fill="#cdd50e"/>
<rect x="463" y="863" width="20" height="14" fill="#a3cc1c"/>
<rect x="539" y="863" width="19" height="14" fill="#cdd50e"/>
<rect x="1219" y="863" width="39" height="14" fill="#cdd50e"/>
<rect x="1634" y="863" width="39" height="14" fill="#cdd50e"/>
<rect x="463" y="849" width="20" height="15" fill="#cdd50e"/>
<rect x="501" y="849" width="20" height="15" fill="#cdd50e"/>
<rect x="539" y="849" width="19" height="15" fill="#cdd50e"/>
<rect x="576" y="849" width="20" height="15" fill="#cdd50e"/>
<rect x="1105" y="849" width="20" height="15" fill="#cdd50e"/>
<rect x="1200" y="849" width="20" height="15" fill="#cdd50e"/>
<rect x="1257" y="849" width="38" height="15" fill="#cdd50e"/>
<rect x="1313" y="849" width="20" height="15" fill="#a3cc1c"/>
<rect x="1445" y="849" width="20" height="15" fill="#cdd50e"/>
<rect x="1578" y="849" width="20" height="15" fill="#cdd50e"/>
<rect x="1691" y="849" width="20" height="15" fill="#a3cc1c"/>
<rect x="1710" y="849" width="20" height="15" fill="#cdd50e"/>
<rect x="1767" y="849" width="20" height="15" fill="#cdd50e"/>
<rect x="350" y="835" width="19" height="15" fill="#cdd50e"/>
<rect x="482" y="835" width="20" height="15" fill="#66bc39"/>
<rect x="822" y="835" width="20" height="15" fill="#cdd50e"/>
<rect x="1030" y="835" width="20" height="15" fill="#cdd50e"/>
<rect x="1105" y="835" width="20" height="15" fill="#a3cc1c"/>
<rect x="1238" y="835" width="20" height="15" fill="#cdd50e"/>
<rect x="1294" y="835" width="20" height="15" fill="#66bc39"/>
<rect x="1464" y="835" width="20" height="15" fill="#cdd50e"/>
<rect x="1540" y="835" width="20" height="15" fill="#cdd50e"/>
<rect x="1559" y="835" width="20" height="15" fill="#a3cc1c"/>
<rect x="1616" y="835" width="19" height="15" fill="#cdd50e"/>
<rect x="1634" y="835" width="39" height="15" fill="#a3cc1c"/>
<rect x="1672" y="835" width="20" height="15" fill="#66bc39"/>
<rect x="1691" y="835" width="20" height="15" fill="#cdd50e"/>
<rect x="1729" y="835" width="39" height="15" fill="#cdd50e"/>
<rect x="557" y="821" width="20" height="15" fill="#cdd50e"/>
<rect x="765" y="821" width="39" height="15" fill="#cdd50e"/>
<rect x="898" y="821" width="19" height="15" fill="#cdd50e"/>
<rect x="1162" y="821" width="20" height="15" fill="#cdd50e"/>
<rect x="1257" y="821" width="19" height="15" fill="#cdd50e"/>
<rect x="1275" y="821" width="20" height="15" fill="#66bc39"/>
<rect x="1294" y="821" width="39" height="15" fill="#a3cc1c"/>
<rect x="1389" y="821" width="39" height="15" fill="#cdd50e"/>
<rect x="1445" y="821" width="20" height="15" fill="#cdd50e"/>
<rect x="1483" y="821" width="20" height="15" fill="#cdd50e"/>
<rect x="1521" y="821" width="20" height="15" fill="#cdd50e"/>
<rect x="1578" y="821" width="20" height="15" fill="#66bc39"/>
<rect x="1597" y="821" width="20" height="15" fill="#4ab448"/>
<rect x="1616" y="821" width="19" height="15" fill="#a3cc1c"/>
<rect x="1634" y="821" width="20" height="15" fill="#cdd50e"/>
<rect x="1672" y="821" width="20" height="15" fill="#66bc39"/>
<rect x="1691" y="821" width="20" height="15" fill="#a3cc1c"/>
<rect x="1729" y="821" width="39" height="15" fill="#cdd50e"/>
<rect x="387" y="807" width="39" height="15" fill="#cdd50e"/>
<rect x="482" y="807" width="20" height="15" fill="#cdd50e"/>
<rect x="539" y="807" width="19" height="15" fill="#cdd50e"/>
<rect x="576" y="807" width="20" height="15" fill="#cdd50e"/>
<rect x="841" y="807" width="20" height="15" fill="#cdd50e"/>
<rect x="954" y="807" width="20" height="15" fill="#cdd50e"/>
<rect x="973" y="807" width="20" height="15" fill="#a3cc1c"/>
<rect x="1049" y="807" width="20" height="15" fill="#cdd50e"/>
<rect x="1086" y="807" width="20" height="15" fill="#cdd50e"/>
<rect x="1181" y="807" width="20" height="15" fill="#a3cc1c"/>
<rect x="1219" y="807" width="39" height="15" fill="#cdd50e"/>
<rect x="1257" y="807" width="19" height="15" fill="#3aa854"/>
<rect x="1275" y="807" width="20" height="15" fill="#229067"/>
<rect x="1294" y="807" width="20" height="15" fill="#a3cc1c"/>
<rect x="1313" y="807" width="20" height="15" fill="#3aa854"/>
<rect x="1370" y="807" width="20" height="15" fill="#a3cc1c"/>
<rect x="1389" y="807" width="20" height="15" fill="#cdd50e"/>
<rect x="1427" y="807" width="57" height="15" fill="#cdd50e"/>
<rect x="1502" y="807" width="115" height="15" fill="#cdd50e"/>
<rect x="1616" y="807" width="19" height="15" fill="#66bc39"/>
<rect x="1634" y="807" width="39" height="15" fill="#3aa854"/>
<rect x="1672" y="807" width="20" height="15" fill="#cdd50e"/>
<rect x="1691" y="807" width="39" height="15" fill="#a3cc1c"/>
<rect x="1729" y="807" width="58" height="15" fill="#cdd50e"/>
<rect x="368" y="794" width="20" height="14" fill="#cdd50e"/>
<rect x="406" y="794" width="20" height="14" fill="#cdd50e"/>
<rect x="520" y="794" width="20" height="14" fill="#cdd50e"/>
<rect x="557" y="794" width="20" height="14" fill="#cdd50e"/>
<rect x="595" y="794" width="39" height="14" fill="#cdd50e"/>
<rect x="671" y="794" width="20" height="14" fill="#cdd50e"/>
<rect x="935" y="794" width="20" height="14" fill="#cdd50e"/>
<rect x="973" y="794" width="20" height="14" fill="#cdd50e"/>
<rect x="992" y="794" width="39" height="14" fill="#a3cc1c"/>
<rect x="1049" y="794" width="20" height="14" fill="#cdd50e"/>
<rect x="1068" y="794" width="19" height="14" fill="#a3cc1c"/>
<rect x="1105" y="794" width="20" height="14" fill="#a3cc1c"/>
<rect x="1124" y="794" width="20" height="14" fill="#cdd50e"/>
<rect x="1143" y="794" width="20" height="14" fill="#a3cc1c"/>
<rect x="1162" y="794" width="20" height="14" fill="#cdd50e"/>
<rect x="1200" y="794" width="39" height="14" fill="#a3cc1c"/>
<rect x="1238" y="794" width="20" height="14" fill="#66bc39"/>
<rect x="1257" y="794" width="19" height="14" fill="#3aa854"/>
<rect x="1275" y="794" width="39" height="14" fill="#229067"/>
<rect x="1313" y="794" width="20" height="14" fill="#2a9c60"/>
<rect x="1332" y="794" width="20" height="14" fill="#4ab448"/>
<rect x="1351" y="794" width="20" height="14" fill="#a3cc1c"/>
<rect x="1408" y="794" width="20" height="14" fill="#a3cc1c"/>
<rect x="1427" y="794" width="38" height="14" fill="#cdd50e"/>
<rect x="1464" y="794" width="20" height="14" fill="#a3cc1c"/>
<rect x="1521" y="794" width="77" height="14" fill="#66bc39"/>
<rect x="1597" y="794" width="20" height="14" fill="#4ab448"/>
<rect x="1616" y="794" width="19" height="14" fill="#3aa854"/>
<rect x="1634" y="794" width="20" height="14" fill="#2a9c60"/>
<rect x="1653" y="794" width="20" height="14" fill="#229067"/>
<rect x="1672" y="794" width="20" height="14" fill="#2a9c60"/>
<rect x="1691" y="794" width="39" height="14" fill="#3aa854"/>
<rect x="1729" y="794" width="20" height="14" fill="#66bc39"/>
<rect x="1748" y="794" width="76" height="14" fill="#cdd50e"/>
<rect x="387" y="780" width="20" height="15" fill="#cdd50e"/>
<rect x="482" y="780" width="20" height="15" fill="#cdd50e"/>
<rect x="727" y="780" width="39" height="15" fill="#cdd50e"/>
<rect x="879" y="780" width="20" height="15" fill="#cdd50e"/>
<rect x="916" y="780" width="20" height="15" fill="#a3cc1c"/>
<rect x="954" y="780" width="58" height="15" fill="#cdd50e"/>
<rect x="1068" y="780" width="19" height="15" fill="#a3cc1c"/>
<rect x="1086" y="780" width="20" height="15" fill="#66bc39"/>
<rect x="1105" y="780" width="20" height="15" fill="#a3cc1c"/>
<rect x="1124" y="780" width="20" height="15" fill="#3aa854"/>
<rect x="1162" y="780" width="39" height="15" fill="#a3cc1c"/>
<rect x="1200" y="780" width="20" height="15" fill="#cdd50e"/>
<rect x="1219" y="780" width="39" height="15" fill="#66bc39"/>
<rect x="1257" y="780" width="38" height="15" fill="#229067"/>
<rect x="1294" y="780" width="39" height="15" fill="#1f836c"/>
<rect x="1332" y="780" width="20" height="15" fill="#3aa854"/>
<rect x="1351" y="780" width="39" height="15" fill="#cdd50e"/>
<rect x="1389" y="780" width="20" height="15" fill="#a3cc1c"/>
<rect x="1427" y="780" width="19" height="15" fill="#4ab448"/>
<rect x="1445" y="780" width="39" height="15" fill="#cdd50e"/>
<rect x="1483" y="780" width="20" height="15" fill="#a3cc1c"/>
<rect x="1502" y="780" width="20" height="15" fill="#66bc39"/>
<rect x="1521" y="780" width="20" height="15" fill="#4ab448"/>
<rect x="1540" y="780" width="20" height="15" fill="#a3cc1c"/>
<rect x="1559" y="780" width="20" height="15" fill="#66bc39"/>
<rect x="1578" y="780" width="20" height="15" fill="#3aa854"/>
<rect x="1597" y="780" width="38" height="15" fill="#2a9c60"/>
<rect x="1634" y="780" width="39" height="15" fill="#1f836c"/>
<rect x="1672" y="780" width="20" height="15" fill="#229067"/>
<rect x="1691" y="780" width="58" height="15" fill="#3aa854"/>
<rect x="1748" y="780" width="57" height="15" fill="#a3cc1c"/>
<rect x="350" y="766" width="19" height="15" fill="#cdd50e"/>
<rect x="387" y="766" width="20" height="15" fill="#cdd50e"/>
<rect x="463" y="766" width="20" height="15" fill="#cdd50e"/>
<rect x="576" y="766" width="20" height="15" fill="#cdd50e"/>
<rect x="614" y="766" width="20" height="15" fill="#cdd50e"/>
<rect x="690" y="766" width="20" height="15" fill="#cdd50e"/>
<rect x="746" y="766" width="20" height="15" fill="#66bc39"/>
<rect x="765" y="766" width="20" height="15" fill="#cdd50e"/>
<rect x="803" y="766" width="20" height="15" fill="#66bc39"/>
<rect x="841" y="766" width="20" height="15" fill="#cdd50e"/>
<rect x="879" y="766" width="20" height="15" fill="#cdd50e"/>
<rect x="898" y="766" width="19" height="15" fill="#a3cc1c"/>
<rect x="916" y="766" width="20" height="15" fill="#cdd50e"/>
<rect x="973" y="766" width="39" height="15" fill="#a3cc1c"/>
<rect x="1011" y="766" width="20" height="15" fill="#cdd50e"/>
<rect x="1030" y="766" width="39" height="15" fill="#a3cc1c"/>
<rect x="1068" y="766" width="19" height="15" fill="#66bc39"/>
<rect x="1086" y="766" width="20" height="15" fill="#cdd50e"/>
<rect x="1105" y="766" width="20" height="15" fill="#66bc39"/>
<rect x="1124" y="766" width="20" height="15" fill="#3aa854"/>
<rect x="1143" y="766" width="20" height="15" fill="#a3cc1c"/>
<rect x="1162" y="766" width="39" height="15" fill="#4ab448"/>
<rect x="1200" y="766" width="20" height="15" fill="#66bc39"/>
<rect x="1219" y="766" width="20" height="15" fill="#cdd50e"/>
<rect x="1238" y="766" width="20" height="15" fill="#2a9c60"/>
<rect x="1257" y="766" width="38" height="15" fill="#1f836c"/>
<rect x="1294" y="766" width="20" height="15" fill="#1c7670"/>
<rect x="1313" y="766" width="20" height="15" fill="#1f836c"/>
<rect x="1332" y="766" width="20" height="15" fill="#229067"/>
<rect x="1351" y="766" width="20" height="15" fill="#66bc39"/>
<rect x="1370" y="766" width="20" height="15" fill="#a3cc1c"/>
<rect x="1389" y="766" width="20" height="15" fill="#66bc39"/>
<rect x="1408" y="766" width="20" height="15" fill="#a3cc1c"/>
<rect x="1427" y="766" width="38" height="15" fill="#66bc39"/>
<rect x="1464" y="766" width="20" height="15" fill="#a3cc1c"/>
<rect x="1483" y="766" width="20" height="15" fill="#66bc39"/>
<rect x="1502" y="766" width="20" height="15" fill="#cdd50e"/>
<rect x="1521" y="766" width="20" height="15" fill="#3aa854"/>
<rect x="1540" y="766" width="39" height="15" fill="#66bc39"/>
<rect x="1578" y="766" width="20" height="15" fill="#3aa854"/>
<rect x="1597" y="766" width="38" height="15" fill="#1f836c"/>
<rect x="1634" y="766" width="58" height="15" fill="#1c7670"/>
<rect x="1691" y="766" width="20" height="15" fill="#1f836c"/>
<rect x="1710" y="766" width="20" height="15" fill="#229067"/>
<rect x="1729" y="766" width="20" height="15" fill="#3aa854"/>
<rect x="1748" y="766" width="39" height="15" fill="#66bc39"/>
<rect x="1786" y="766" width="19" height="15" fill="#a3cc1c"/>
<rect x="463" y="752" width="39" height="15" fill="#cdd50e"/>
<rect x="520" y="752" width="20" height="15" fill="#a3cc1c"/>
<rect x="595" y="752" width="20" height="15" fill="#a3cc1c"/>
<rect x="746" y="752" width="20" height="15" fill="#66bc39"/>
<rect x="765" y="752" width="39" height="15" fill="#cdd50e"/>
<rect x="822" y="752" width="39" height="15" fill="#cdd50e"/>
<rect x="860" y="752" width="20" height="15" fill="#a3cc1c"/>
<rect x="879" y="752" width="20" height="15" fill="#66bc39"/>
<rect x="898" y="752" width="19" height="15" fill="#a3cc1c"/>
<rect x="916" y="752" width="20" height="15" fill="#cdd50e"/>
<rect x="935" y="752" width="20" height="15" fill="#66bc39"/>
<rect x="954" y="752" width="20" height="15" fill="#4ab448"/>
<rect x="973" y="752" width="58" height="15" fill="#cdd50e"/>
<rect x="1030" y="752" width="20" height="15" fill="#66bc39"/>
<rect x="1049" y="752" width="20" height="15" fill="#a3cc1c"/>
<rect x="1068" y="752" width="19" height="15" fill="#66bc39"/>
<rect x="1086" y="752" width="39" height="15" fill="#3aa854"/>
<rect x="1124" y="752" width="20" height="15" fill="#a3cc1c"/>
<rect x="1143" y="752" width="58" height="15" fill="#3aa854"/>
<rect x="1200" y="752" width="20" height="15" fill="#66bc39"/>
<rect x="1219" y="752" width="20" height="15" fill="#229067"/>
<rect x="1238" y="752" width="20" height="15" fill="#2a9c60"/>
<rect x="1257" y="752" width="19" height="15" fill="#1f836c"/>
<rect x="1275" y="752" width="20" height="15" fill="#1e6971"/>
<rect x="1294" y="752" width="20" height="15" fill="#205e72"/>
<rect x="1313" y="752" width="39" height="15" fill="#1c7670"/>
<rect x="1351" y="752" width="20" height="15" fill="#3aa854"/>
<rect x="1370" y="752" width="39" height="15" fill="#66bc39"/>
<rect x="1408" y="752" width="20" height="15" fill="#3aa854"/>
<rect x="1427" y="752" width="19" height="15" fill="#a3cc1c"/>
<rect x="1445" y="752" width="20" height="15" fill="#4ab448"/>
<rect x="1464" y="752" width="20" height="15" fill="#66bc39"/>
<rect x="1483" y="752" width="20" height="15" fill="#cdd50e"/>
<rect x="1502" y="752" width="20" height="15" fill="#66bc39"/>
<rect x="1521" y="752" width="39" height="15" fill="#3aa854"/>
<rect x="1559" y="752" width="20" height="15" fill="#2a9c60"/>
<rect x="1578" y="752" width="20" height="15" fill="#3aa854"/>
<rect x="1597" y="752" width="20" height="15" fill="#2a9c60"/>
<rect x="1616" y="752" width="57" height="15" fill="#1c7670"/>
<rect x="1672" y="752" width="39" height="15" fill="#1e6971"/>
<rect x="1710" y="752" width="20" height="15" fill="#1c7670"/>
<rect x="1729" y="752" width="20" height="15" fill="#2a9c60"/>
<rect x="1748" y="752" width="20" height="15" fill="#3aa854"/>
<rect x="1767" y="752" width="20" height="15" fill="#66bc39"/>
<rect x="1786" y="752" width="19" height="15" fill="#cdd50e"/>
<rect x="1804" y="752" width="20" height="15" fill="#a3cc1c"/>
<rect x="1823" y="752" width="20" height="15" fill="#cdd50e"/>
<rect x="1880" y="752" width="20" height="15" fill="#a3cc1c"/>
<rect x="406" y="738" width="20" height="15" fill="#cdd50e"/>
<rect x="444" y="738" width="20" height="15" fill="#cdd50e"/>
<rect x="557" y="738" width="20" height="15" fill="#cdd50e"/>
<rect x="576" y="738" width="20" height="15" fill="#a3cc1c"/>
<rect x="690" y="738" width="20" height="15" fill="#cdd50e"/>
<rect x="709" y="738" width="19" height="15" fill="#a3cc1c"/>
<rect x="746" y="738" width="20" height="15" fill="#cdd50e"/>
<rect x="784" y="738" width="20" height="15" fill="#cdd50e"/>
<rect x="822" y="738" width="77" height="15" fill="#a3cc1c"/>
<rect x="898" y="738" width="19" height="15" fill="#4ab448"/>
<rect x="916" y="738" width="20" height="15" fill="#cdd50e"/>
<rect x="935" y="738" width="20" height="15" fill="#66bc39"/>
<rect x="954" y="738" width="20" height="15" fill="#cdd50e"/>
<rect x="973" y="738" width="58" height="15" fill="#66bc39"/>
<rect x="1030" y="738" width="20" height="15" fill="#3aa854"/>
<rect x="1049" y="738" width="20" height="15" fill="#cdd50e"/>
<rect x="1068" y="738" width="76" height="15" fill="#3aa854"/>
<rect x="1143" y="738" width="20" height="15" fill="#66bc39"/>
<rect x="1162" y="738" width="39" height="15" fill="#2a9c60"/>
<rect x="1200" y="738" width="20" height="15" fill="#4ab448"/>
<rect x="1219" y="738" width="20" height="15" fill="#3aa854"/>
<rect x="1238" y="738" width="20" height="15" fill="#1f836c"/>
<rect x="1257" y="738" width="19" height="15" fill="#1e6971"/>
<rect x="1275" y="738" width="39" height="15" fill="#205e72"/>
<rect x="1313" y="738" width="39" height="15" fill="#1e6971"/>
<rect x="1351" y="738" width="20" height="15" fill="#229067"/>
<rect x="1370" y="738" width="20" height="15" fill="#cdd50e"/>
<rect x="1389" y="738" width="39" height="15" fill="#4ab448"/>
<rect x="1427" y="738" width="19" height="15" fill="#66bc39"/>
<rect x="1445" y="738" width="20" height="15" fill="#2a9c60"/>
<rect x="1464" y="738" width="20" height="15" fill="#66bc39"/>
<rect x="1483" y="738" width="39" height="15" fill="#3aa854"/>
<rect x="1521" y="738" width="20" height="15" fill="#66bc39"/>
<rect x="1540" y="738" width="58" height="15" fill="#2a9c60"/>
<rect x="1597" y="738" width="20" height="15" fill="#1f836c"/>
<rect x="1616" y="738" width="19" height="15" fill="#1c7670"/>
<rect x="1634" y="738" width="39" height="15" fill="#205e72"/>
<rect x="1672" y="738" width="20" height="15" fill="#235172"/>
<rect x="1691" y="738" width="20" height="15" fill="#1e6971"/>
<rect x="1710" y="738" width="20" height="15" fill="#1c7670"/>
<rect x="1729" y="738" width="20" height="15" fill="#1f836c"/>
<rect x="1748" y="738" width="20" height="15" fill="#2a9c60"/>
<rect x="1767" y="738" width="38" height="15" fill="#66bc39"/>
<rect x="1804" y="738" width="20" height="15" fill="#a3cc1c"/>
<rect x="350" y="725" width="19" height="14" fill="#cdd50e"/>
<rect x="463" y="725" width="20" height="14" fill="#66bc39"/>
<rect x="614" y="725" width="20" height="14" fill="#cdd50e"/>
<rect x="652" y="725" width="58" height="14" fill="#cdd50e"/>
<rect x="709" y="725" width="19" height="14" fill="#a3cc1c"/>
<rect x="765" y="725" width="20" height="14" fill="#cdd50e"/>
<rect x="784" y="725" width="20" height="14" fill="#a3cc1c"/>
<rect x="803" y="725" width="20" height="14" fill="#4ab448"/>
<rect x="822" y="725" width="20" height="14" fill="#66bc39"/>
<rect x="841" y="725" width="20" height="14" fill="#cdd50e"/>
<rect x="860" y="725" width="20" height="14" fill="#66bc39"/>
<rect x="898" y="725" width="38" height="14" fill="#66bc39"/>
<rect x="935" y="725" width="20" height="14" fill="#a3cc1c"/>
<rect x="954" y="725" width="39" height="14" fill="#66bc39"/>
<rect x="992" y="725" width="20" height="14" fill="#cdd50e"/>
<rect x="1011" y="725" width="20" height="14" fill="#3aa854"/>
<rect x="1030" y="725" width="20" height="14" fill="#66bc39"/>
<rect x="1049" y="725" width="38" height="14" fill="#3aa854"/>
<rect x="1086" y="725" width="20" height="14" fill="#a3cc1c"/>
<rect x="1105" y="725" width="20" height="14" fill="#3aa854"/>
<rect x="1124" y="725" width="20" height="14" fill="#229067"/>
<rect x="1143" y="725" width="20" height="14" fill="#2a9c60"/>
<rect x="1162" y="725" width="20" height="14" fill="#3aa854"/>
<rect x="1181" y="725" width="39" height="14" fill="#2a9c60"/>
<rect x="1219" y="725" width="20" height="14" fill="#229067"/>
<rect x="1238" y="725" width="20" height="14" fill="#1f836c"/>
<rect x="1257" y="725" width="19" height="14" fill="#205e72"/>
<rect x="1275" y="725" width="39" height="14" fill="#235172"/>
<rect x="1313" y="725" width="39" height="14" fill="#1e6971"/>
<rect x="1351" y="725" width="20" height="14" fill="#1f836c"/>
<rect x="1370" y="725" width="39" height="14" fill="#3aa854"/>
<rect x="1408" y="725" width="38" height="14" fill="#66bc39"/>
<rect x="1445" y="725" width="20" height="14" fill="#2a9c60"/>
<rect x="1464" y="725" width="20" height="14" fill="#4ab448"/>
<rect x="1483" y="725" width="20" height="14" fill="#66bc39"/>
<rect x="1502" y="725" width="39" height="14" fill="#3aa854"/>
<rect x="1540" y="725" width="20" height="14" fill="#2a9c60"/>
<rect x="1559" y="725" width="20" height="14" fill="#229067"/>
<rect x="1578" y="725" width="20" height="14" fill="#2a9c60"/>
<rect x="1597" y="725" width="20" height="14" fill="#1c7670"/>
<rect x="1616" y="725" width="19" height="14" fill="#1e6971"/>
<rect x="1634" y="725" width="20" height="14" fill="#205e72"/>
<rect x="1653" y="725" width="39" height="14" fill="#235172"/>
<rect x="1691" y="725" width="20" height="14" fill="#205e72"/>
<rect x="1710" y="725" width="20" height="14" fill="#1e6971"/>
<rect x="1729" y="725" width="20" height="14" fill="#1f836c"/>
<rect x="1748" y="725" width="20" height="14" fill="#229067"/>
<rect x="1767" y="725" width="20" height="14" fill="#a3cc1c"/>
<rect x="1786" y="725" width="19" height="14" fill="#4ab448"/>
<rect x="1823" y="725" width="20" height="14" fill="#cdd50e"/>
<rect x="482" y="711" width="39" height="15" fill="#cdd50e"/>
<rect x="539" y="711" width="19" height="15" fill="#cdd50e"/>
<rect x="595" y="711" width="39" height="15" fill="#cdd50e"/>
<rect x="652" y="711" width="20" height="15" fill="#cdd50e"/>
<rect x="690" y="711" width="20" height="15" fill="#a3cc1c"/>
<rect x="727" y="711" width="20" height="15" fill="#cdd50e"/>
<rect x="765" y="711" width="58" height="15" fill="#cdd50e"/>
<rect x="822" y="711" width="20" height="15" fill="#a3cc1c"/>
<rect x="860" y="711" width="20" height="15" fill="#cdd50e"/>
<rect x="879" y="711" width="20" height="15" fill="#a3cc1c"/>
<rect x="898" y="711" width="19" height="15" fill="#66bc39"/>
<rect x="916" y="711" width="20" height="15" fill="#a3cc1c"/>
<rect x="935" y="711" width="20" height="15" fill="#66bc39"/>
<rect x="954" y="711" width="20" height="15" fill="#3aa854"/>
<rect x="973" y="711" width="20" height="15" fill="#a3cc1c"/>
<rect x="992" y="711" width="20" height="15" fill="#66bc39"/>
<rect x="1011" y="711" width="20" height="15" fill="#a3cc1c"/>
<rect x="1030" y="711" width="20" height="15" fill="#4ab448"/>
<rect x="1049" y="711" width="20" height="15" fill="#66bc39"/>
<rect x="1068" y="711" width="19" height="15" fill="#4ab448"/>
<rect x="1086" y="711" width="20" height="15" fill="#66bc39"/>
<rect x="1105" y="711" width="20" height="15" fill="#2a9c60"/>
<rect x="1124" y="711" width="20" height="15" fill="#3aa854"/>
<rect x="1143" y="711" width="20" height="15" fill="#2a9c60"/>
<rect x="1162" y="711" width="20" height="15" fill="#3aa854"/>
<rect x="1181" y="711" width="20" height="15" fill="#2a9c60"/>
<rect x="1200" y="711" width="20" height="15" fill="#229067"/>
<rect x="1219" y="711" width="20" height="15" fill="#1f836c"/>
<rect x="1238" y="711" width="20" height="15" fill="#1c7670"/>
<rect x="1257" y="711" width="76" height="15" fill="#235172"/>
<rect x="1332" y="711" width="20" height="15" fill="#205e72"/>
<rect x="1351" y="711" width="20" height="15" fill="#2a9c60"/>
<rect x="1370" y="711" width="20" height="15" fill="#229067"/>
<rect x="1389" y="711" width="20" height="15" fill="#66bc39"/>
<rect x="1408" y="711" width="20" height="15" fill="#3aa854"/>
<rect x="1427" y="711" width="19" height="15" fill="#2a9c60"/>
<rect x="1445" y="711" width="20" height="15" fill="#3aa854"/>
<rect x="1464" y="711" width="20" height="15" fill="#66bc39"/>
<rect x="1483" y="711" width="20" height="15" fill="#3aa854"/>
<rect x="1502" y="711" width="20" height="15" fill="#2a9c60"/>
<rect x="1521" y="711" width="20" height="15" fill="#3aa854"/>
<rect x="1540" y="711" width="39" height="15" fill="#2a9c60"/>
<rect x="1578" y="711" width="20" height="15" fill="#229067"/>
<rect x="1597" y="711" width="20" height="15" fill="#1c7670"/>
<rect x="1616" y="711" width="19" height="15" fill="#1e6971"/>
<rect x="1634" y="711" width="39" height="15" fill="#235172"/>
<rect x="1672" y="711" width="39" height="15" fill="#205e72"/>
<rect x="1710" y="711" width="20" height="15" fill="#1e6971"/>
<rect x="1729" y="711" width="39" height="15" fill="#1f836c"/>
<rect x="1767" y="711" width="20" height="15" fill="#3aa854"/>
<rect x="1786" y="711" width="19" height="15" fill="#66bc39"/>
<rect x="1804" y="711" width="20" height="15" fill="#cdd50e"/>
<rect x="1842" y="711" width="20" height="15" fill="#cdd50e"/>
<rect x="501" y="697" width="20" height="15" fill="#a3cc1c"/>
<rect x="557" y="697" width="20" height="15" fill="#cdd50e"/>
<rect x="614" y="697" width="20" height="15" fill="#cdd50e"/>
<rect x="633" y="697" width="20" height="15" fill="#a3cc1c"/>
<rect x="690" y="697" width="20" height="15" fill="#a3cc1c"/>
<rect x="709" y="697" width="19" height="15" fill="#66bc39"/>
<rect x="727" y="697" width="20" height="15" fill="#cdd50e"/>
<rect x="746" y="697" width="20" height="15" fill="#4ab448"/>
<rect x="784" y="697" width="20" height="15" fill="#a3cc1c"/>
<rect x="803" y="697" width="20" height="15" fill="#66bc39"/>
<rect x="841" y="697" width="58" height="15" fill="#66bc39"/>
<rect x="898" y="697" width="19" height="15" fill="#cdd50e"/>
<rect x="916" y="697" width="39" height="15" fill="#66bc39"/>
<rect x="954" y="697" width="39" height="15" fill="#4ab448"/>
<rect x="992" y="697" width="39" height="15" fill="#66bc39"/>
<rect x="1030" y="697" width="20" height="15" fill="#2a9c60"/>
<rect x="1049" y="697" width="57" height="15" fill="#3aa854"/>
<rect x="1105" y="697" width="58" height="15" fill="#2a9c60"/>
<rect x="1162" y="697" width="20" height="15" fill="#229067"/>
<rect x="1181" y="697" width="20" height="15" fill="#1f836c"/>
<rect x="1200" y="697" width="39" height="15" fill="#229067"/>
<rect x="1238" y="697" width="20" height="15" fill="#1c7670"/>
<rect x="1257" y="697" width="19" height="15" fill="#235172"/>
<rect x="1275" y="697" width="39" height="15" fill="#274471"/>
<rect x="1313" y="697" width="20" height="15" fill="#235172"/>
<rect x="1332" y="697" width="20" height="15" fill="#205e72"/>
<rect x="1351" y="697" width="20" height="15" fill="#1c7670"/>
<rect x="1370" y="697" width="20" height="15" fill="#229067"/>
<rect x="1389" y="697" width="20" height="15" fill="#2a9c60"/>
<rect x="1408" y="697" width="38" height="15" fill="#3aa854"/>
<rect x="1445" y="697" width="20" height="15" fill="#2a9c60"/>
<rect x="1464" y="697" width="20" height="15" fill="#3aa854"/>
<rect x="1483" y="697" width="20" height="15" fill="#2a9c60"/>
<rect x="1502" y="697" width="20" height="15" fill="#4ab448"/>
<rect x="1521" y="697" width="20" height="15" fill="#2a9c60"/>
<rect x="1540" y="697" width="20" height="15" fill="#229067"/>
<rect x="1559" y="697" width="20" height="15" fill="#3aa854"/>
<rect x="1578" y="697" width="20" height="15" fill="#229067"/>
<rect x="1597" y="697" width="20" height="15" fill="#1c7670"/>
<rect x="1616" y="697" width="19" height="15" fill="#205e72"/>
<rect x="1634" y="697" width="77" height="15" fill="#235172"/>
<rect x="1710" y="697" width="20" height="15" fill="#205e72"/>
<rect x="1729" y="697" width="20" height="15" fill="#1f836c"/>
<rect x="1748" y="697" width="20" height="15" fill="#229067"/>
<rect x="1767" y="697" width="20" height="15" fill="#2a9c60"/>
<rect x="1786" y="697" width="19" height="15" fill="#66bc39"/>
<rect x="1804" y="697" width="20" height="15" fill="#cdd50e"/>
<rect x="368" y="683" width="20" height="15" fill="#cdd50e"/>
<rect x="406" y="683" width="39" height="15" fill="#cdd50e"/>
<rect x="482" y="683" width="20" height="15" fill="#cdd50e"/>
<rect x="520" y="683" width="20" height="15" fill="#a3cc1c"/>
<rect x="614" y="683" width="20" height="15" fill="#a3cc1c"/>
<rect x="633" y="683" width="20" height="15" fill="#66bc39"/>
<rect x="652" y="683" width="20" height="15" fill="#4ab448"/>
<rect x="671" y="683" width="39" height="15" fill="#cdd50e"/>
<rect x="709" y="683" width="38" height="15" fill="#66bc39"/>
<rect x="746" y="683" width="58" height="15" fill="#cdd50e"/>
<rect x="803" y="683" width="58" height="15" fill="#a3cc1c"/>
<rect x="860" y="683" width="20" height="15" fill="#66bc39"/>
<rect x="879" y="683" width="20" height="15" fill="#4ab448"/>
<rect x="898" y="683" width="19" height="15" fill="#66bc39"/>
<rect x="916" y="683" width="58" height="15" fill="#3aa854"/>
<rect x="973" y="683" width="20" height="15" fill="#cdd50e"/>
<rect x="992" y="683" width="20" height="15" fill="#3aa854"/>
<rect x="1011" y="683" width="20" height="15" fill="#cdd50e"/>
<rect x="1030" y="683" width="20" height="15" fill="#3aa854"/>
<rect x="1049" y="683" width="20" height="15" fill="#2a9c60"/>
<rect x="1068" y="683" width="19" height="15" fill="#229067"/>
<rect x="1086" y="683" width="58" height="15" fill="#2a9c60"/>
<rect x="1143" y="683" width="39" height="15" fill="#229067"/>
<rect x="1181" y="683" width="20" height="15" fill="#1f836c"/>
<rect x="1200" y="683" width="39" height="15" fill="#229067"/>
<rect x="1238" y="683" width="20" height="15" fill="#1e6971"/>
<rect x="1257" y="683" width="19" height="15" fill="#235172"/>
<rect x="1275" y="683" width="20" height="15" fill="#274471"/>
<rect x="1294" y="683" width="20" height="15" fill="#2b3770"/>
<rect x="1313" y="683" width="20" height="15" fill="#274471"/>
<rect x="1332" y="683" width="20" height="15" fill="#205e72"/>
<rect x="1351" y="683" width="20" height="15" fill="#1c7670"/>
<rect x="1370" y="683" width="20" height="15" fill="#1f836c"/>
<rect x="1389" y="683" width="20" height="15" fill="#2a9c60"/>
<rect x="1408" y="683" width="20" height="15" fill="#4ab448"/>
<rect x="1427" y="683" width="19" height="15" fill="#3aa854"/>
<rect x="1445" y="683" width="39" height="15" fill="#2a9c60"/>
<rect x="1483" y="683" width="20" height="15" fill="#3aa854"/>
<rect x="1502" y="683" width="20" height="15" fill="#2a9c60"/>
<rect x="1521" y="683" width="20" height="15" fill="#3aa854"/>
<rect x="1540" y="683" width="58" height="15" fill="#229067"/>
<rect x="1597" y="683" width="20" height="15" fill="#1e6971"/>
<rect x="1616" y="683" width="19" height="15" fill="#205e72"/>
<rect x="1634" y="683" width="39" height="15" fill="#235172"/>
<rect x="1672" y="683" width="20" height="15" fill="#274471"/>
<rect x="1691" y="683" width="20" height="15" fill="#235172"/>
<rect x="1710" y="683" width="20" height="15" fill="#205e72"/>
<rect x="1729" y="683" width="20" height="15" fill="#1e6971"/>
<rect x="1748" y="683" width="20" height="15" fill="#1c7670"/>
<rect x="1767" y="683" width="20" height="15" fill="#2a9c60"/>
<rect x="1786" y="683" width="19" height="15" fill="#66bc39"/>
<rect x="1804" y="683" width="20" height="15" fill="#a3cc1c"/>
<rect x="1842" y="683" width="20" height="15" fill="#cdd50e"/>
<rect x="331" y="669" width="20" height="15" fill="#cdd50e"/>
<rect x="595" y="669" width="20" height="15" fill="#cdd50e"/>
<rect x="614" y="669" width="20" height="15" fill="#3aa854"/>
<rect x="652" y="669" width="20" height="15" fill="#a3cc1c"/>
<rect x="671" y="669" width="57" height="15" fill="#cdd50e"/>
<rect x="727" y="669" width="20" height="15" fill="#a3cc1c"/>
<rect x="746" y="669" width="20" height="15" fill="#66bc39"/>
<rect x="765" y="669" width="39" height="15" fill="#cdd50e"/>
<rect x="803" y="669" width="20" height="15" fill="#a3cc1c"/>
<rect x="822" y="669" width="20" height="15" fill="#66bc39"/>
<rect x="841" y="669" width="20" height="15" fill="#3aa854"/>
<rect x="860" y="669" width="20" height="15" fill="#66bc39"/>
<rect x="879" y="669" width="20" height="15" fill="#3aa854"/>
<rect x="898" y="669" width="19" height="15" fill="#66bc39"/>
<rect x="916" y="669" width="20" height="15" fill="#2a9c60"/>
<rect x="935" y="669" width="39" height="15" fill="#66bc39"/>
<rect x="973" y="669" width="39" height="15" fill="#3aa854"/>
<rect x="1011" y="669" width="39" height="15" fill="#4ab448"/>
<rect x="1049" y="669" width="20" height="15" fill="#2a9c60"/>
<rect x="1068" y="669" width="19" height="15" fill="#3aa854"/>
<rect x="1086" y="669" width="20" height="15" fill="#229067"/>
<rect x="1105" y="669" width="58" height="15" fill="#2a9c60"/>
<rect x="1162" y="669" width="58" height="15" fill="#229067"/>
<rect x="1219" y="669" width="20" height="15" fill="#1f836c"/>
<rect x="1238" y="669" width="20" height="15" fill="#1c7670"/>
<rect x="1257" y="669" width="19" height="15" fill="#235172"/>
<rect x="1275" y="669" width="20" height="15" fill="#274471"/>
<rect x="1294" y="669" width="39" height="15" fill="#2b3770"/>
<rect x="1332" y="669" width="20" height="15" fill="#205e72"/>
<rect x="1351" y="669" width="20" height="15" fill="#1e6971"/>
<rect x="1370" y="669" width="20" height="15" fill="#1c7670"/>
<rect x="1389" y="669" width="20" height="15" fill="#4ab448"/>
<rect x="1408" y="669" width="38" height="15" fill="#3aa854"/>
<rect x="1445" y="669" width="20" height="15" fill="#2a9c60"/>
<rect x="1464" y="669" width="20" height="15" fill="#66bc39"/>
<rect x="1483" y="669" width="20" height="15" fill="#2a9c60"/>
<rect x="1502" y="669" width="20" height="15" fill="#3aa854"/>
<rect x="1521" y="669" width="39" height="15" fill="#2a9c60"/>
<rect x="1559" y="669" width="39" height="15" fill="#1f836c"/>
<rect x="1597" y="669" width="20" height="15" fill="#1e6971"/>
<rect x="1616" y="669" width="38" height="15" fill="#205e72"/>
<rect x="1653" y="669" width="20" height="15" fill="#274471"/>
<rect x="1672" y="669" width="39" height="15" fill="#235172"/>
<rect x="1710" y="669" width="20" height="15" fill="#205e72"/>
<rect x="1729" y="669" width="20" height="15" fill="#1e6971"/>
<rect x="1748" y="669" width="20" height="15" fill="#229067"/>
<rect x="1767" y="669" width="20" height="15" fill="#2a9c60"/>
<rect x="1786" y="669" width="38" height="15" fill="#66bc39"/>
<rect x="368" y="656" width="39" height="14" fill="#cdd50e"/>
<rect x="463" y="656" width="39" height="14" fill="#cdd50e"/>
<rect x="595" y="656" width="39" height="14" fill="#cdd50e"/>
<rect x="633" y="656" width="20" height="14" fill="#a3cc1c"/>
<rect x="671" y="656" width="20" height="14" fill="#cdd50e"/>
<rect x="709" y="656" width="19" height="14" fill="#cdd50e"/>
<rect x="727" y="656" width="20" height="14" fill="#a3cc1c"/>
<rect x="746" y="656" width="20" height="14" fill="#66bc39"/>
<rect x="765" y="656" width="20" height="14" fill="#cdd50e"/>
<rect x="784" y="656" width="20" height="14" fill="#4ab448"/>
<rect x="803" y="656" width="20" height="14" fill="#a3cc1c"/>
<rect x="841" y="656" width="20" height="14" fill="#cdd50e"/>
<rect x="860" y="656" width="20" height="14" fill="#3aa854"/>
<rect x="879" y="656" width="20" height="14" fill="#66bc39"/>
<rect x="898" y="656" width="19" height="14" fill="#a3cc1c"/>
<rect x="916" y="656" width="20" height="14" fill="#66bc39"/>
<rect x="935" y="656" width="20" height="14" fill="#4ab448"/>
<rect x="954" y="656" width="20" height="14" fill="#66bc39"/>
<rect x="973" y="656" width="20" height="14" fill="#4ab448"/>
<rect x="992" y="656" width="39" height="14" fill="#66bc39"/>
<rect x="1030" y="656" width="39" height="14" fill="#3aa854"/>
<rect x="1068" y="656" width="19" height="14" fill="#4ab448"/>
<rect x="1086" y="656" width="20" height="14" fill="#66bc39"/>
<rect x="1105" y="656" width="20" height="14" fill="#3aa854"/>
<rect x="1124" y="656" width="39" height="14" fill="#1f836c"/>
<rect x="1162" y="656" width="77" height="14" fill="#229067"/>
<rect x="1238" y="656" width="20" height="14" fill="#1c7670"/>
<rect x="1257" y="656" width="19" height="14" fill="#235172"/>
<rect x="1275" y="656" width="58" height="14" fill="#274471"/>
<rect x="1332" y="656" width="20" height="14" fill="#235172"/>
<rect x="1351" y="656" width="39" height="14" fill="#1e6971"/>
<rect x="1389" y="656" width="20" height="14" fill="#3aa854"/>
<rect x="1408" y="656" width="20" height="14" fill="#2a9c60"/>
<rect x="1427" y="656" width="19" height="14" fill="#3aa854"/>
<rect x="1445" y="656" width="20" height="14" fill="#229067"/>
<rect x="1464" y="656" width="39" height="14" fill="#2a9c60"/>
<rect x="1502" y="656" width="20" height="14" fill="#229067"/>
<rect x="1521" y="656" width="20" height="14" fill="#2a9c60"/>
<rect x="1540" y="656" width="39" height="14" fill="#3aa854"/>
<rect x="1578" y="656" width="20" height="14" fill="#1f836c"/>
<rect x="1597" y="656" width="20" height="14" fill="#1c7670"/>
<rect x="1616" y="656" width="19" height="14" fill="#1e6971"/>
<rect x="1634" y="656" width="20" height="14" fill="#235172"/>
<rect x="1653" y="656" width="39" height="14" fill="#274471"/>
<rect x="1691" y="656" width="20" height="14" fill="#235172"/>
<rect x="1710" y="656" width="20" height="14" fill="#205e72"/>
<rect x="1729" y="656" width="20" height="14" fill="#1f836c"/>
<rect x="1748" y="656" width="39" height="14" fill="#2a9c60"/>
<rect x="1786" y="656" width="19" height="14" fill="#3aa854"/>
<rect x="1804" y="656" width="20" height="14" fill="#66bc39"/>
<rect x="1823" y="656" width="20" height="14" fill="#cdd50e"/>
<rect x="1861" y="656" width="20" height="14" fill="#cdd50e"/>
<rect x="576" y="642" width="20" height="15" fill="#a3cc1c"/>
<rect x="614" y="642" width="39" height="15" fill="#cdd50e"/>
<rect x="652" y="642" width="20" height="15" fill="#66bc39"/>
<rect x="671" y="642" width="39" height="15" fill="#a3cc1c"/>
<rect x="727" y="642" width="20" height="15" fill="#cdd50e"/>
<rect x="746" y="642" width="58" height="15" fill="#66bc39"/>
<rect x="803" y="642" width="20" height="15" fill="#a3cc1c"/>
<rect x="822" y="642" width="20" height="15" fill="#cdd50e"/>
<rect x="841" y="642" width="20" height="15" fill="#4ab448"/>
<rect x="860" y="642" width="20" height="15" fill="#66bc39"/>
<rect x="879" y="642" width="20" height="15" fill="#3aa854"/>
<rect x="898" y="642" width="19" height="15" fill="#4ab448"/>
<rect x="916" y="642" width="20" height="15" fill="#3aa854"/>
<rect x="935" y="642" width="20" height="15" fill="#66bc39"/>
<rect x="954" y="642" width="58" height="15" fill="#4ab448"/>
<rect x="1011" y="642" width="20" height="15" fill="#2a9c60"/>
<rect x="1030" y="642" width="20" height="15" fill="#3aa854"/>
<rect x="1049" y="642" width="20" height="15" fill="#2a9c60"/>
<rect x="1068" y="642" width="38" height="15" fill="#3aa854"/>
<rect x="1105" y="642" width="20" height="15" fill="#229067"/>
<rect x="1124" y="642" width="39" height="15" fill="#2a9c60"/>
<rect x="1162" y="642" width="20" height="15" fill="#229067"/>
<rect x="1181" y="642" width="39" height="15" fill="#1f836c"/>
<rect x="1219" y="642" width="20" height="15" fill="#2a9c60"/>
<rect x="1238" y="642" width="20" height="15" fill="#1e6971"/>
<rect x="1257" y="642" width="19" height="15" fill="#235172"/>
<rect x="1275" y="642" width="20" height="15" fill="#274471"/>
<rect x="1294" y="642" width="20" height="15" fill="#2b3770"/>
<rect x="1313" y="642" width="39" height="15" fill="#274471"/>
<rect x="1351" y="642" width="20" height="15" fill="#1e6971"/>
<rect x="1370" y="642" width="20" height="15" fill="#1c7670"/>
<rect x="1389" y="642" width="20" height="15" fill="#4ab448"/>
<rect x="1408" y="642" width="20" height="15" fill="#66bc39"/>
<rect x="1427" y="642" width="19" height="15" fill="#3aa854"/>
<rect x="1445" y="642" width="20" height="15" fill="#229067"/>
<rect x="1464" y="642" width="39" height="15" fill="#2a9c60"/>
<rect x="1502" y="642" width="20" height="15" fill="#3aa854"/>
<rect x="1521" y="642" width="39" height="15" fill="#2a9c60"/>
<rect x="1559" y="642" width="20" height="15" fill="#3aa854"/>
<rect x="1578" y="642" width="20" height="15" fill="#229067"/>
<rect x="1597" y="642" width="20" height="15" fill="#1f836c"/>
<rect x="1616" y="642" width="19" height="15" fill="#1c7670"/>
<rect x="1634" y="642" width="77" height="15" fill="#235172"/>
<rect x="1710" y="642" width="39" height="15" fill="#205e72"/>
<rect x="1748" y="642" width="20" height="15" fill="#229067"/>
<rect x="1767" y="642" width="20" height="15" fill="#1f836c"/>
<rect x="1786" y="642" width="19" height="15" fill="#2a9c60"/>
<rect x="1804" y="642" width="20" height="15" fill="#cdd50e"/>
<rect x="444" y="628" width="20" height="15" fill="#cdd50e"/>
<rect x="539" y="628" width="19" height="15" fill="#a3cc1c"/>
<rect x="557" y="628" width="77" height="15" fill="#cdd50e"/>
<rect x="633" y="628" width="39" height="15" fill="#a3cc1c"/>
<rect x="671" y="628" width="39" height="15" fill="#cdd50e"/>
<rect x="709" y="628" width="19" height="15" fill="#a3cc1c"/>
<rect x="746" y="628" width="39" height="15" fill="#66bc39"/>
<rect x="784" y="628" width="39" height="15" fill="#a3cc1c"/>
<rect x="822" y="628" width="20" height="15" fill="#66bc39"/>
<rect x="841" y="628" width="58" height="15" fill="#3aa854"/>
<rect x="898" y="628" width="19" height="15" fill="#4ab448"/>
<rect x="916" y="628" width="20" height="15" fill="#66bc39"/>
<rect x="935" y="628" width="39" height="15" fill="#3aa854"/>
<rect x="973" y="628" width="20" height="15" fill="#2a9c60"/>
<rect x="992" y="628" width="20" height="15" fill="#3aa854"/>
<rect x="1011" y="628" width="20" height="15" fill="#2a9c60"/>
<rect x="1030" y="628" width="20" height="15" fill="#66bc39"/>
<rect x="1049" y="628" width="20" height="15" fill="#2a9c60"/>
<rect x="1068" y="628" width="19" height="15" fill="#4ab448"/>
<rect x="1086" y="628" width="20" height="15" fill="#66bc39"/>
<rect x="1105" y="628" width="58" height="15" fill="#2a9c60"/>
<rect x="1162" y="628" width="20" height="15" fill="#1f836c"/>
<rect x="1181" y="628" width="39" height="15" fill="#2a9c60"/>
<rect x="1219" y="628" width="39" height="15" fill="#1f836c"/>
<rect x="1257" y="628" width="19" height="15" fill="#205e72"/>
<rect x="1275" y="628" width="20" height="15" fill="#235172"/>
<rect x="1294" y="628" width="39" height="15" fill="#274471"/>
<rect x="1332" y="628" width="20" height="15" fill="#205e72"/>
<rect x="1351" y="628" width="20" height="15" fill="#1e6971"/>
<rect x="1370" y="628" width="39" height="15" fill="#1f836c"/>
<rect x="1408" y="628" width="20" height="15" fill="#3aa854"/>
<rect x="1427" y="628" width="19" height="15" fill="#2a9c60"/>
<rect x="1445" y="628" width="39" height="15" fill="#229067"/>
<rect x="1483" y="628" width="20" height="15" fill="#2a9c60"/>
<rect x="1502" y="628" width="39" height="15" fill="#229067"/>
<rect x="1540" y="628" width="39" height="15" fill="#2a9c60"/>
<rect x="1578" y="628" width="20" height="15" fill="#229067"/>
<rect x="1597" y="628" width="20" height="15" fill="#1c7670"/>
<rect x="1616" y="628" width="38" height="15" fill="#1e6971"/>
<rect x="1653" y="628" width="58" height="15" fill="#235172"/>
<rect x="1710" y="628" width="20" height="15" fill="#205e72"/>
<rect x="1729" y="628" width="20" height="15" fill="#1c7670"/>
<rect x="1748" y="628" width="20" height="15" fill="#1f836c"/>
<rect x="1767" y="628" width="20" height="15" fill="#2a9c60"/>
<rect x="1786" y="628" width="38" height="15" fill="#a3cc1c"/>
<rect x="501" y="614" width="20" height="15" fill="#cdd50e"/>
<rect x="557" y="614" width="20" height="15" fill="#cdd50e"/>
<rect x="576" y="614" width="20" height="15" fill="#a3cc1c"/>
<rect x="652" y="614" width="20" height="15" fill="#cdd50e"/>
<rect x="690" y="614" width="20" height="15" fill="#cdd50e"/>
<rect x="727" y="614" width="20" height="15" fill="#cdd50e"/>
<rect x="746" y="614" width="20" height="15" fill="#a3cc1c"/>
<rect x="765" y="614" width="20" height="15" fill="#cdd50e"/>
<rect x="784" y="614" width="20" height="15" fill="#a3cc1c"/>
<rect x="803" y="614" width="20" height="15" fill="#66bc39"/>
<rect x="822" y="614" width="20" height="15" fill="#3aa854"/>
<rect x="860" y="614" width="39" height="15" fill="#66bc39"/>
<rect x="898" y="614" width="38" height="15" fill="#a3cc1c"/>
<rect x="935" y="614" width="20" height="15" fill="#66bc39"/>
<rect x="954" y="614" width="20" height="15" fill="#3aa854"/>
<rect x="973" y="614" width="20" height="15" fill="#66bc39"/>
<rect x="992" y="614" width="39" height="15" fill="#3aa854"/>
<rect x="1030" y="614" width="20" height="15" fill="#4ab448"/>
<rect x="1049" y="614" width="20" height="15" fill="#2a9c60"/>
<rect x="1068" y="614" width="38" height="15" fill="#3aa854"/>
<rect x="1105" y="614" width="39" height="15" fill="#2a9c60"/>
<rect x="1143" y="614" width="20" height="15" fill="#3aa854"/>
<rect x="1162" y="614" width="20" height="15" fill="#229067"/>
<rect x="1181" y="614" width="39" height="15" fill="#2a9c60"/>
<rect x="1219" y="614" width="20" height="15" fill="#229067"/>
<rect x="1238" y="614" width="20" height="15" fill="#1c7670"/>
<rect x="1257" y="614" width="19" height="15" fill="#205e72"/>
<rect x="1275" y="614" width="58" height="15" fill="#274471"/>
<rect x="1332" y="614" width="20" height="15" fill="#235172"/>
<rect x="1351" y="614" width="20" height="15" fill="#1e6971"/>
<rect x="1370" y="614" width="20" height="15" fill="#1f836c"/>
<rect x="1389" y="614" width="20" height="15" fill="#a3cc1c"/>
<rect x="1408" y="614" width="20" height="15" fill="#2a9c60"/>
<rect x="1427" y="614" width="95" height="15" fill="#3aa854"/>
<rect x="1521" y="614" width="20" height="15" fill="#66bc39"/>
<rect x="1540" y="614" width="20" height="15" fill="#2a9c60"/>
<rect x="1559" y="614" width="20" height="15" fill="#229067"/>
<rect x="1578" y="614" width="20" height="15" fill="#2a9c60"/>
<rect x="1597" y="614" width="20" height="15" fill="#229067"/>
<rect x="1616" y="614" width="19" height="15" fill="#1c7670"/>
<rect x="1634" y="614" width="20" height="15" fill="#1e6971"/>
<rect x="1653" y="614" width="77" height="15" fill="#205e72"/>
<rect x="1729" y="614" width="20" height="15" fill="#1f836c"/>
<rect x="1748" y="614" width="20" height="15" fill="#229067"/>
<rect x="1767" y="614" width="20" height="15" fill="#3aa854"/>
<rect x="1786" y="614" width="19" height="15" fill="#66bc39"/>
<rect x="1804" y="614" width="20" height="15" fill="#a3cc1c"/>
<rect x="350" y="600" width="19" height="15" fill="#cdd50e"/>
<rect x="463" y="600" width="20" height="15" fill="#cdd50e"/>
<rect x="576" y="600" width="20" height="15" fill="#cdd50e"/>
<rect x="614" y="600" width="20" height="15" fill="#cdd50e"/>
<rect x="652" y="600" width="20" height="15" fill="#a3cc1c"/>
<rect x="671" y="600" width="20" height="15" fill="#cdd50e"/>
<rect x="709" y="600" width="19" height="15" fill="#66bc39"/>
<rect x="727" y="600" width="20" height="15" fill="#a3cc1c"/>
<rect x="746" y="600" width="20" height="15" fill="#cdd50e"/>
<rect x="784" y="600" width="20" height="15" fill="#cdd50e"/>
<rect x="803" y="600" width="20" height="15" fill="#66bc39"/>
<rect x="822" y="600" width="20" height="15" fill="#cdd50e"/>
<rect x="841" y="600" width="20" height="15" fill="#4ab448"/>
<rect x="860" y="600" width="20" height="15" fill="#a3cc1c"/>
<rect x="879" y="600" width="20" height="15" fill="#4ab448"/>
<rect x="898" y="600" width="38" height="15" fill="#66bc39"/>
<rect x="935" y="600" width="39" height="15" fill="#cdd50e"/>
<rect x="973" y="600" width="20" height="15" fill="#4ab448"/>
<rect x="992" y="600" width="20" height="15" fill="#a3cc1c"/>
<rect x="1011" y="600" width="20" height="15" fill="#3aa854"/>
<rect x="1030" y="600" width="20" height="15" fill="#cdd50e"/>
<rect x="1049" y="600" width="38" height="15" fill="#66bc39"/>
<rect x="1086" y="600" width="20" height="15" fill="#3aa854"/>
<rect x="1105" y="600" width="20" height="15" fill="#4ab448"/>
<rect x="1124" y="600" width="20" height="15" fill="#3aa854"/>
<rect x="1143" y="600" width="20" height="15" fill="#229067"/>
<rect x="1162" y="600" width="20" height="15" fill="#4ab448"/>
<rect x="1181" y="600" width="20" height="15" fill="#1f836c"/>
<rect x="1200" y="600" width="20" height="15" fill="#66bc39"/>
<rect x="1219" y="600" width="39" height="15" fill="#229067"/>
<rect x="1257" y="600" width="19" height="15" fill="#1e6971"/>
<rect x="1275" y="600" width="39" height="15" fill="#235172"/>
<rect x="1313" y="600" width="20" height="15" fill="#274471"/>
<rect x="1332" y="600" width="20" height="15" fill="#205e72"/>
<rect x="1351" y="600" width="20" height="15" fill="#1c7670"/>
<rect x="1370" y="600" width="20" height="15" fill="#1f836c"/>
<rect x="1389" y="600" width="20" height="15" fill="#66bc39"/>
<rect x="1408" y="600" width="38" height="15" fill="#2a9c60"/>
<rect x="1445" y="600" width="20" height="15" fill="#3aa854"/>
<rect x="1464" y="600" width="20" height="15" fill="#66bc39"/>
<rect x="1483" y="600" width="58" height="15" fill="#3aa854"/>
<rect x="1540" y="600" width="39" height="15" fill="#4ab448"/>
<rect x="1578" y="600" width="39" height="15" fill="#2a9c60"/>
<rect x="1616" y="600" width="19" height="15" fill="#1c7670"/>
<rect x="1634" y="600" width="39" height="15" fill="#1e6971"/>
<rect x="1672" y="600" width="20" height="15" fill="#235172"/>
<rect x="1691" y="600" width="20" height="15" fill="#205e72"/>
<rect x="1710" y="600" width="20" height="15" fill="#1e6971"/>
<rect x="1729" y="600" width="20" height="15" fill="#1f836c"/>
<rect x="1748" y="600" width="20" height="15" fill="#229067"/>
<rect x="1767" y="600" width="20" height="15" fill="#4ab448"/>
<rect x="1786" y="600" width="19" height="15" fill="#66bc39"/>
<rect x="1804" y="600" width="39" height="15" fill="#cdd50e"/>
<rect x="444" y="587" width="20" height="14" fill="#cdd50e"/>
<rect x="520" y="587" width="20" height="14" fill="#cdd50e"/>
<rect x="557" y="587" width="39" height="14" fill="#cdd50e"/>
<rect x="633" y="587" width="20" height="14" fill="#a3cc1c"/>
<rect x="652" y="587" width="39" height="14" fill="#cdd50e"/>
<rect x="709" y="587" width="19" height="14" fill="#cdd50e"/>
<rect x="727" y="587" width="20" height="14" fill="#66bc39"/>
<rect x="746" y="587" width="20" height="14" fill="#cdd50e"/>
<rect x="784" y="587" width="20" height="14" fill="#cdd50e"/>
<rect x="822" y="587" width="20" height="14" fill="#cdd50e"/>
<rect x="841" y="587" width="39" height="14" fill="#66bc39"/>
<rect x="879" y="587" width="20" height="14" fill="#cdd50e"/>
<rect x="898" y="587" width="19" height="14" fill="#66bc39"/>
<rect x="916" y="587" width="20" height="14" fill="#a3cc1c"/>
<rect x="935" y="587" width="20" height="14" fill="#3aa854"/>
<rect x="954" y="587" width="20" height="14" fill="#a3cc1c"/>
<rect x="973" y="587" width="20" height="14" fill="#4ab448"/>
<rect x="992" y="587" width="20" height="14" fill="#66bc39"/>
<rect x="1011" y="587" width="20" height="14" fill="#cdd50e"/>
<rect x="1030" y="587" width="39" height="14" fill="#2a9c60"/>
<rect x="1068" y="587" width="38" height="14" fill="#3aa854"/>
<rect x="1105" y="587" width="20" height="14" fill="#2a9c60"/>
<rect x="1124" y="587" width="20" height="14" fill="#3aa854"/>
<rect x="1143" y="587" width="20" height="14" fill="#2a9c60"/>
<rect x="1162" y="587" width="20" height="14" fill="#3aa854"/>
<rect x="1181" y="587" width="20" height="14" fill="#2a9c60"/>
<rect x="1200" y="587" width="20" height="14" fill="#4ab448"/>
<rect x="1219" y="587" width="39" height="14" fill="#229067"/>
<rect x="1257" y="587" width="19" height="14" fill="#1c7670"/>
<rect x="1275" y="587" width="20" height="14" fill="#205e72"/>
<rect x="1294" y="587" width="39" height="14" fill="#235172"/>
<rect x="1332" y="587" width="20" height="14" fill="#205e72"/>
<rect x="1351" y="587" width="39" height="14" fill="#1c7670"/>
<rect x="1389" y="587" width="20" height="14" fill="#2a9c60"/>
<rect x="1408" y="587" width="20" height="14" fill="#4ab448"/>
<rect x="1427" y="587" width="38" height="14" fill="#66bc39"/>
<rect x="1464" y="587" width="20" height="14" fill="#3aa854"/>
<rect x="1483" y="587" width="20" height="14" fill="#4ab448"/>
<rect x="1502" y="587" width="20" height="14" fill="#3aa854"/>
<rect x="1521" y="587" width="20" height="14" fill="#66bc39"/>
<rect x="1540" y="587" width="39" height="14" fill="#3aa854"/>
<rect x="1578" y="587" width="20" height="14" fill="#4ab448"/>
<rect x="1597" y="587" width="20" height="14" fill="#2a9c60"/>
<rect x="1616" y="587" width="19" height="14" fill="#229067"/>
<rect x="1634" y="587" width="20" height="14" fill="#1c7670"/>
<rect x="1653" y="587" width="58" height="14" fill="#1e6971"/>
<rect x="1710" y="587" width="20" height="14" fill="#1c7670"/>
<rect x="1729" y="587" width="20" height="14" fill="#1e6971"/>
<rect x="1748" y="587" width="20" height="14" fill="#229067"/>
<rect x="1767" y="587" width="20" height="14" fill="#2a9c60"/>
<rect x="1786" y="587" width="19" height="14" fill="#66bc39"/>
<rect x="1823" y="587" width="20" height="14" fill="#a3cc1c"/>
<rect x="501" y="573" width="20" height="15" fill="#a3cc1c"/>
<rect x="539" y="573" width="19" height="15" fill="#cdd50e"/>
<rect x="671" y="573" width="57" height="15" fill="#a3cc1c"/>
<rect x="746" y="573" width="20" height="15" fill="#cdd50e"/>
<rect x="765" y="573" width="20" height="15" fill="#66bc39"/>
<rect x="784" y="573" width="20" height="15" fill="#a3cc1c"/>
<rect x="803" y="573" width="20" height="15" fill="#cdd50e"/>
<rect x="822" y="573" width="20" height="15" fill="#66bc39"/>
<rect x="841" y="573" width="20" height="15" fill="#a3cc1c"/>
<rect x="860" y="573" width="39" height="15" fill="#66bc39"/>
<rect x="898" y="573" width="19" height="15" fill="#a3cc1c"/>
<rect x="916" y="573" width="39" height="15" fill="#66bc39"/>
<rect x="954" y="573" width="20" height="15" fill="#cdd50e"/>
<rect x="973" y="573" width="20" height="15" fill="#a3cc1c"/>
<rect x="992" y="573" width="58" height="15" fill="#66bc39"/>
<rect x="1049" y="573" width="20" height="15" fill="#a3cc1c"/>
<rect x="1068" y="573" width="19" height="15" fill="#cdd50e"/>
<rect x="1086" y="573" width="20" height="15" fill="#3aa854"/>
<rect x="1105" y="573" width="20" height="15" fill="#4ab448"/>
<rect x="1124" y="573" width="20" height="15" fill="#66bc39"/>
<rect x="1143" y="573" width="20" height="15" fill="#3aa854"/>
<rect x="1162" y="573" width="20" height="15" fill="#a3cc1c"/>
<rect x="1181" y="573" width="20" height="15" fill="#3aa854"/>
<rect x="1200" y="573" width="20" height="15" fill="#66bc39"/>
<rect x="1219" y="573" width="20" height="15" fill="#3aa854"/>
<rect x="1238" y="573" width="20" height="15" fill="#2a9c60"/>
<rect x="1257" y="573" width="19" height="15" fill="#1f836c"/>
<rect x="1275" y="573" width="20" height="15" fill="#205e72"/>
<rect x="1294" y="573" width="20" height="15" fill="#235172"/>
<rect x="1313" y="573" width="20" height="15" fill="#205e72"/>
<rect x="1332" y="573" width="20" height="15" fill="#1c7670"/>
<rect x="1351" y="573" width="39" height="15" fill="#229067"/>
<rect x="1389" y="573" width="39" height="15" fill="#66bc39"/>
<rect x="1427" y="573" width="19" height="15" fill="#4ab448"/>
<rect x="1445" y="573" width="77" height="15" fill="#66bc39"/>
<rect x="1521" y="573" width="39" height="15" fill="#3aa854"/>
<rect x="1559" y="573" width="20" height="15" fill="#a3cc1c"/>
<rect x="1578" y="573" width="20" height="15" fill="#66bc39"/>
<rect x="1597" y="573" width="20" height="15" fill="#3aa854"/>
<rect x="1616" y="573" width="19" height="15" fill="#2a9c60"/>
<rect x="1634" y="573" width="20" height="15" fill="#1f836c"/>
<rect x="1653" y="573" width="58" height="15" fill="#1e6971"/>
<rect x="1710" y="573" width="20" height="15" fill="#1c7670"/>
<rect x="1729" y="573" width="20" height="15" fill="#1f836c"/>
<rect x="1748" y="573" width="20" height="15" fill="#2a9c60"/>
<rect x="1767" y="573" width="20" height="15" fill="#66bc39"/>
<rect x="1786" y="573" width="38" height="15" fill="#cdd50e"/>
<rect x="557" y="559" width="20" height="15" fill="#cdd50e"/>
<rect x="614" y="559" width="20" height="15" fill="#cdd50e"/>
<rect x="652" y="559" width="20" height="15" fill="#cdd50e"/>
<rect x="690" y="559" width="20" height="15" fill="#66bc39"/>
<rect x="709" y="559" width="57" height="15" fill="#cdd50e"/>
<rect x="765" y="559" width="20" height="15" fill="#66bc39"/>
<rect x="822" y="559" width="20" height="15" fill="#4ab448"/>
<rect x="841" y="559" width="20" height="15" fill="#a3cc1c"/>
<rect x="860" y="559" width="20" height="15" fill="#4ab448"/>
<rect x="879" y="559" width="38" height="15" fill="#a3cc1c"/>
<rect x="916" y="559" width="20" height="15" fill="#cdd50e"/>
<rect x="954" y="559" width="20" height="15" fill="#66bc39"/>
<rect x="973" y="559" width="20" height="15" fill="#cdd50e"/>
<rect x="992" y="559" width="20" height="15" fill="#a3cc1c"/>
<rect x="1011" y="559" width="20" height="15" fill="#66bc39"/>
<rect x="1030" y="559" width="20" height="15" fill="#4ab448"/>
<rect x="1049" y="559" width="20" height="15" fill="#3aa854"/>
<rect x="1068" y="559" width="19" height="15" fill="#a3cc1c"/>
<rect x="1086" y="559" width="58" height="15" fill="#66bc39"/>
<rect x="1143" y="559" width="20" height="15" fill="#4ab448"/>
<rect x="1162" y="559" width="39" height="15" fill="#66bc39"/>
<rect x="1200" y="559" width="20" height="15" fill="#4ab448"/>
<rect x="1219" y="559" width="20" height="15" fill="#66bc39"/>
<rect x="1238" y="559" width="20" height="15" fill="#3aa854"/>
<rect x="1257" y="559" width="19" height="15" fill="#229067"/>
<rect x="1275" y="559" width="20" height="15" fill="#205e72"/>
<rect x="1294" y="559" width="20" height="15" fill="#235172"/>
<rect x="1313" y="559" width="20" height="15" fill="#1e6971"/>
<rect x="1332" y="559" width="20" height="15" fill="#1c7670"/>
<rect x="1351" y="559" width="20" height="15" fill="#229067"/>
<rect x="1370" y="559" width="20" height="15" fill="#2a9c60"/>
<rect x="1389" y="559" width="20" height="15" fill="#3aa854"/>
<rect x="1408" y="559" width="38" height="15" fill="#a3cc1c"/>
<rect x="1445" y="559" width="20" height="15" fill="#3aa854"/>
<rect x="1464" y="559" width="20" height="15" fill="#66bc39"/>
<rect x="1483" y="559" width="20" height="15" fill="#a3cc1c"/>
<rect x="1502" y="559" width="39" height="15" fill="#66bc39"/>
<rect x="1540" y="559" width="20" height="15" fill="#a3cc1c"/>
<rect x="1559" y="559" width="20" height="15" fill="#4ab448"/>
<rect x="1578" y="559" width="39" height="15" fill="#66bc39"/>
<rect x="1616" y="559" width="19" height="15" fill="#229067"/>
<rect x="1634" y="559" width="20" height="15" fill="#1c7670"/>
<rect x="1653" y="559" width="20" height="15" fill="#1f836c"/>
<rect x="1672" y="559" width="39" height="15" fill="#1c7670"/>
<rect x="1710" y="559" width="20" height="15" fill="#1f836c"/>
<rect x="1729" y="559" width="20" height="15" fill="#3aa854"/>
<rect x="1748" y="559" width="20" height="15" fill="#2a9c60"/>
<rect x="1767" y="559" width="20" height="15" fill="#a3cc1c"/>
<rect x="1786" y="559" width="19" height="15" fill="#cdd50e"/>
<rect x="463" y="545" width="58" height="15" fill="#cdd50e"/>
<rect x="539" y="545" width="19" height="15" fill="#cdd50e"/>
<rect x="690" y="545" width="20" height="15" fill="#cdd50e"/>
<rect x="727" y="545" width="20" height="15" fill="#cdd50e"/>
<rect x="784" y="545" width="20" height="15" fill="#cdd50e"/>
<rect x="803" y="545" width="20" height="15" fill="#a3cc1c"/>
<rect x="822" y="545" width="20" height="15" fill="#66bc39"/>
<rect x="860" y="545" width="20" height="15" fill="#cdd50e"/>
<rect x="879" y="545" width="20" height="15" fill="#a3cc1c"/>
<rect x="898" y="545" width="57" height="15" fill="#cdd50e"/>
<rect x="954" y="545" width="20" height="15" fill="#a3cc1c"/>
<rect x="973" y="545" width="20" height="15" fill="#cdd50e"/>
<rect x="992" y="545" width="39" height="15" fill="#66bc39"/>
<rect x="1030" y="545" width="20" height="15" fill="#cdd50e"/>
<rect x="1068" y="545" width="19" height="15" fill="#a3cc1c"/>
<rect x="1086" y="545" width="20" height="15" fill="#4ab448"/>
<rect x="1105" y="545" width="20" height="15" fill="#3aa854"/>
<rect x="1124" y="545" width="20" height="15" fill="#a3cc1c"/>
<rect x="1143" y="545" width="20" height="15" fill="#4ab448"/>
<rect x="1162" y="545" width="20" height="15" fill="#a3cc1c"/>
<rect x="1181" y="545" width="20" height="15" fill="#66bc39"/>
<rect x="1200" y="545" width="20" height="15" fill="#3aa854"/>
<rect x="1219" y="545" width="20" height="15" fill="#66bc39"/>
<rect x="1238" y="545" width="38" height="15" fill="#2a9c60"/>
<rect x="1275" y="545" width="20" height="15" fill="#1c7670"/>
<rect x="1294" y="545" width="39" height="15" fill="#1e6971"/>
<rect x="1332" y="545" width="20" height="15" fill="#1c7670"/>
<rect x="1351" y="545" width="20" height="15" fill="#229067"/>
<rect x="1370" y="545" width="20" height="15" fill="#3aa854"/>
<rect x="1389" y="545" width="20" height="15" fill="#4ab448"/>
<rect x="1427" y="545" width="19" height="15" fill="#4ab448"/>
<rect x="1445" y="545" width="20" height="15" fill="#3aa854"/>
<rect x="1464" y="545" width="77" height="15" fill="#66bc39"/>
<rect x="1559" y="545" width="58" height="15" fill="#66bc39"/>
<rect x="1616" y="545" width="19" height="15" fill="#3aa854"/>
<rect x="1634" y="545" width="20" height="15" fill="#2a9c60"/>
<rect x="1653" y="545" width="39" height="15" fill="#1f836c"/>
<rect x="1691" y="545" width="20" height="15" fill="#229067"/>
<rect x="1710" y="545" width="20" height="15" fill="#1f836c"/>
<rect x="1729" y="545" width="20" height="15" fill="#2a9c60"/>
<rect x="1748" y="545" width="39" height="15" fill="#3aa854"/>
<rect x="1786" y="545" width="19" height="15" fill="#a3cc1c"/>
<rect x="1823" y="545" width="20" height="15" fill="#cdd50e"/>
<rect x="482" y="532" width="20" height="14" fill="#a3cc1c"/>
<rect x="595" y="532" width="20" height="14" fill="#cdd50e"/>
<rect x="633" y="532" width="20" height="14" fill="#66bc39"/>
<rect x="727" y="532" width="20" height="14" fill="#a3cc1c"/>
<rect x="746" y="532" width="39" height="14" fill="#cdd50e"/>
<rect x="784" y="532" width="20" height="14" fill="#a3cc1c"/>
<rect x="803" y="532" width="20" height="14" fill="#cdd50e"/>
<rect x="822" y="532" width="20" height="14" fill="#a3cc1c"/>
<rect x="841" y="532" width="20" height="14" fill="#cdd50e"/>
<rect x="860" y="532" width="20" height="14" fill="#a3cc1c"/>
<rect x="879" y="532" width="38" height="14" fill="#cdd50e"/>
<rect x="916" y="532" width="39" height="14" fill="#a3cc1c"/>
<rect x="973" y="532" width="20" height="14" fill="#a3cc1c"/>
<rect x="992" y="532" width="58" height="14" fill="#cdd50e"/>
<rect x="1049" y="532" width="20" height="14" fill="#66bc39"/>
<rect x="1068" y="532" width="19" height="14" fill="#a3cc1c"/>
<rect x="1086" y="532" width="20" height="14" fill="#cdd50e"/>
<rect x="1105" y="532" width="39" height="14" fill="#66bc39"/>
<rect x="1143" y="532" width="20" height="14" fill="#4ab448"/>
<rect x="1162" y="532" width="58" height="14" fill="#66bc39"/>
<rect x="1219" y="532" width="20" height="14" fill="#4ab448"/>
<rect x="1238" y="532" width="20" height="14" fill="#66bc39"/>
<rect x="1257" y="532" width="19" height="14" fill="#2a9c60"/>
<rect x="1275" y="532" width="20" height="14" fill="#1c7670"/>
<rect x="1294" y="532" width="20" height="14" fill="#1e6971"/>
<rect x="1313" y="532" width="20" height="14" fill="#1c7670"/>
<rect x="1332" y="532" width="20" height="14" fill="#2a9c60"/>
<rect x="1351" y="532" width="20" height="14" fill="#3aa854"/>
<rect x="1370" y="532" width="20" height="14" fill="#2a9c60"/>
<rect x="1389" y="532" width="39" height="14" fill="#66bc39"/>
<rect x="1427" y="532" width="19" height="14" fill="#a3cc1c"/>
<rect x="1464" y="532" width="39" height="14" fill="#a3cc1c"/>
<rect x="1502" y="532" width="20" height="14" fill="#66bc39"/>
<rect x="1521" y="532" width="58" height="14" fill="#a3cc1c"/>
<rect x="1578" y="532" width="20" height="14" fill="#cdd50e"/>
<rect x="1597" y="532" width="20" height="14" fill="#66bc39"/>
<rect x="1616" y="532" width="19" height="14" fill="#4ab448"/>
<rect x="1634" y="532" width="39" height="14" fill="#229067"/>
<rect x="1672" y="532" width="20" height="14" fill="#2a9c60"/>
<rect x="1691" y="532" width="39" height="14" fill="#229067"/>
<rect x="1729" y="532" width="20" height="14" fill="#3aa854"/>
<rect x="1748" y="532" width="20" height="14" fill="#2a9c60"/>
<rect x="1767" y="532" width="20" height="14" fill="#a3cc1c"/>
<rect x="1786" y="532" width="19" height="14" fill="#cdd50e"/>
<rect x="387" y="518" width="20" height="15" fill="#cdd50e"/>
<rect x="482" y="518" width="20" height="15" fill="#a3cc1c"/>
<rect x="501" y="518" width="20" height="15" fill="#cdd50e"/>
<rect x="520" y="518" width="20" height="15" fill="#a3cc1c"/>
<rect x="633" y="518" width="20" height="15" fill="#cdd50e"/>
<rect x="784" y="518" width="20" height="15" fill="#cdd50e"/>
<rect x="822" y="518" width="20" height="15" fill="#66bc39"/>
<rect x="935" y="518" width="20" height="15" fill="#a3cc1c"/>
<rect x="954" y="518" width="20" height="15" fill="#cdd50e"/>
<rect x="973" y="518" width="20" height="15" fill="#66bc39"/>
<rect x="992" y="518" width="20" height="15" fill="#a3cc1c"/>
<rect x="1011" y="518" width="95" height="15" fill="#cdd50e"/>
<rect x="1105" y="518" width="20" height="15" fill="#4ab448"/>
<rect x="1124" y="518" width="20" height="15" fill="#a3cc1c"/>
<rect x="1143" y="518" width="20" height="15" fill="#cdd50e"/>
<rect x="1162" y="518" width="20" height="15" fill="#66bc39"/>
<rect x="1181" y="518" width="20" height="15" fill="#a3cc1c"/>
<rect x="1200" y="518" width="20" height="15" fill="#cdd50e"/>
<rect x="1238" y="518" width="20" height="15" fill="#cdd50e"/>
<rect x="1257" y="518" width="19" height="15" fill="#a3cc1c"/>
<rect x="1275" y="518" width="20" height="15" fill="#2a9c60"/>
<rect x="1294" y="518" width="39" height="15" fill="#1f836c"/>
<rect x="1332" y="518" width="20" height="15" fill="#229067"/>
<rect x="1351" y="518" width="20" height="15" fill="#2a9c60"/>
<rect x="1370" y="518" width="20" height="15" fill="#66bc39"/>
<rect x="1389" y="518" width="20" height="15" fill="#cdd50e"/>
<rect x="1408" y="518" width="20" height="15" fill="#66bc39"/>
<rect x="1427" y="518" width="19" height="15" fill="#a3cc1c"/>
<rect x="1445" y="518" width="39" height="15" fill="#cdd50e"/>
<rect x="1502" y="518" width="20" height="15" fill="#a3cc1c"/>
<rect x="1521" y="518" width="20" height="15" fill="#cdd50e"/>
<rect x="1616" y="518" width="19" height="15" fill="#66bc39"/>
<rect x="1634" y="518" width="77" height="15" fill="#2a9c60"/>
<rect x="1710" y="518" width="20" height="15" fill="#3aa854"/>
<rect x="1729" y="518" width="20" height="15" fill="#4ab448"/>
<rect x="1748" y="518" width="20" height="15" fill="#66bc39"/>
<rect x="1767" y="518" width="20" height="15" fill="#a3cc1c"/>
<rect x="1786" y="518" width="19" height="15" fill="#4ab448"/>
<rect x="1842" y="518" width="20" height="15" fill="#cdd50e"/>
<rect x="425" y="504" width="20" height="15" fill="#cdd50e"/>
<rect x="595" y="504" width="20" height="15" fill="#cdd50e"/>
<rect x="633" y="504" width="77" height="15" fill="#cdd50e"/>
<rect x="746" y="504" width="20" height="15" fill="#cdd50e"/>
<rect x="803" y="504" width="20" height="15" fill="#a3cc1c"/>
<rect x="822" y="504" width="20" height="15" fill="#cdd50e"/>
<rect x="860" y="504" width="39" height="15" fill="#cdd50e"/>
<rect x="898" y="504" width="19" height="15" fill="#a3cc1c"/>
<rect x="916" y="504" width="39" height="15" fill="#cdd50e"/>
<rect x="954" y="504" width="39" height="15" fill="#a3cc1c"/>
<rect x="992" y="504" width="20" height="15" fill="#cdd50e"/>
<rect x="1011" y="504" width="20" height="15" fill="#a3cc1c"/>
<rect x="1049" y="504" width="20" height="15" fill="#66bc39"/>
<rect x="1068" y="504" width="19" height="15" fill="#cdd50e"/>
<rect x="1124" y="504" width="20" height="15" fill="#cdd50e"/>
<rect x="1143" y="504" width="20" height="15" fill="#66bc39"/>
<rect x="1181" y="504" width="20" height="15" fill="#66bc39"/>
<rect x="1200" y="504" width="20" height="15" fill="#a3cc1c"/>
<rect x="1238" y="504" width="20" height="15" fill="#a3cc1c"/>
<rect x="1257" y="504" width="19" height="15" fill="#3aa854"/>
<rect x="1275" y="504" width="39" height="15" fill="#229067"/>
<rect x="1313" y="504" width="20" height="15" fill="#2a9c60"/>
<rect x="1332" y="504" width="20" height="15" fill="#3aa854"/>
<rect x="1351" y="504" width="20" height="15" fill="#2a9c60"/>
<rect x="1370" y="504" width="20" height="15" fill="#a3cc1c"/>
<rect x="1389" y="504" width="39" height="15" fill="#cdd50e"/>
<rect x="1427" y="504" width="19" height="15" fill="#a3cc1c"/>
<rect x="1464" y="504" width="20" height="15" fill="#a3cc1c"/>
<rect x="1502" y="504" width="20" height="15" fill="#a3cc1c"/>
<rect x="1521" y="504" width="39" height="15" fill="#cdd50e"/>
<rect x="1559" y="504" width="20" height="15" fill="#a3cc1c"/>
<rect x="1578" y="504" width="20" height="15" fill="#cdd50e"/>
<rect x="1597" y="504" width="38" height="15" fill="#66bc39"/>
<rect x="1634" y="504" width="20" height="15" fill="#3aa854"/>
<rect x="1653" y="504" width="20" height="15" fill="#66bc39"/>
<rect x="1672" y="504" width="20" height="15" fill="#4ab448"/>
<rect x="1691" y="504" width="39" height="15" fill="#2a9c60"/>
<rect x="1729" y="504" width="39" height="15" fill="#66bc39"/>
<rect x="1767" y="504" width="20" height="15" fill="#4ab448"/>
<rect x="501" y="490" width="20" height="15" fill="#cdd50e"/>
<rect x="595" y="490" width="20" height="15" fill="#cdd50e"/>
<rect x="690" y="490" width="20" height="15" fill="#cdd50e"/>
<rect x="784" y="490" width="20" height="15" fill="#a3cc1c"/>
<rect x="822" y="490" width="20" height="15" fill="#a3cc1c"/>
<rect x="898" y="490" width="19" height="15" fill="#cdd50e"/>
<rect x="935" y="490" width="20" height="15" fill="#cdd50e"/>
<rect x="973" y="490" width="20" height="15" fill="#cdd50e"/>
<rect x="1049" y="490" width="38" height="15" fill="#cdd50e"/>
<rect x="1105" y="490" width="39" height="15" fill="#cdd50e"/>
<rect x="1200" y="490" width="20" height="15" fill="#a3cc1c"/>
<rect x="1219" y="490" width="20" height="15" fill="#66bc39"/>
<rect x="1238" y="490" width="20" height="15" fill="#a3cc1c"/>
<rect x="1257" y="490" width="19" height="15" fill="#3aa854"/>
<rect x="1275" y="490" width="20" height="15" fill="#2a9c60"/>
<rect x="1294" y="490" width="39" height="15" fill="#3aa854"/>
<rect x="1332" y="490" width="20" height="15" fill="#2a9c60"/>
<rect x="1351" y="490" width="20" height="15" fill="#cdd50e"/>
<rect x="1370" y="490" width="39" height="15" fill="#66bc39"/>
<rect x="1427" y="490" width="19" height="15" fill="#cdd50e"/>
<rect x="1597" y="490" width="20" height="15" fill="#cdd50e"/>
<rect x="1616" y="490" width="38" height="15" fill="#66bc39"/>
<rect x="1653" y="490" width="20" height="15" fill="#3aa854"/>
<rect x="1672" y="490" width="20" height="15" fill="#2a9c60"/>
<rect x="1691" y="490" width="58" height="15" fill="#66bc39"/>
<rect x="1786" y="490" width="19" height="15" fill="#cdd50e"/>
<rect x="652" y="476" width="20" height="15" fill="#cdd50e"/>
<rect x="690" y="476" width="20" height="15" fill="#cdd50e"/>
<rect x="803" y="476" width="20" height="15" fill="#a3cc1c"/>
<rect x="898" y="476" width="19" height="15" fill="#a3cc1c"/>
<rect x="935" y="476" width="20" height="15" fill="#a3cc1c"/>
<rect x="973" y="476" width="20" height="15" fill="#cdd50e"/>
<rect x="992" y="476" width="20" height="15" fill="#a3cc1c"/>
<rect x="1049" y="476" width="20" height="15" fill="#cdd50e"/>
<rect x="1105" y="476" width="20" height="15" fill="#cdd50e"/>
<rect x="1124" y="476" width="20" height="15" fill="#4ab448"/>
<rect x="1143" y="476" width="96" height="15" fill="#cdd50e"/>
<rect x="1238" y="476" width="38" height="15" fill="#a3cc1c"/>
<rect x="1275" y="476" width="20" height="15" fill="#cdd50e"/>
<rect x="1294" y="476" width="20" height="15" fill="#3aa854"/>
<rect x="1313" y="476" width="20" height="15" fill="#2a9c60"/>
<rect x="1332" y="476" width="39" height="15" fill="#66bc39"/>
<rect x="1408" y="476" width="20" height="15" fill="#cdd50e"/>
<rect x="1464" y="476" width="20" height="15" fill="#cdd50e"/>
<rect x="1483" y="476" width="20" height="15" fill="#a3cc1c"/>
<rect x="1578" y="476" width="57" height="15" fill="#cdd50e"/>
<rect x="1634" y="476" width="20" height="15" fill="#66bc39"/>
<rect x="1653" y="476" width="20" height="15" fill="#a3cc1c"/>
<rect x="1672" y="476" width="20" height="15" fill="#3aa854"/>
<rect x="1691" y="476" width="39" height="15" fill="#4ab448"/>
<rect x="1729" y="476" width="58" height="15" fill="#cdd50e"/>
<rect x="1804" y="476" width="20" height="15" fill="#cdd50e"/>
<rect x="576" y="463" width="20" height="14" fill="#cdd50e"/>
<rect x="652" y="463" width="20" height="14" fill="#a3cc1c"/>
<rect x="671" y="463" width="20" height="14" fill="#cdd50e"/>
<rect x="803" y="463" width="20" height="14" fill="#cdd50e"/>
<rect x="916" y="463" width="39" height="14" fill="#cdd50e"/>
<rect x="1068" y="463" width="19" height="14" fill="#a3cc1c"/>
<rect x="1238" y="463" width="20" height="14" fill="#66bc39"/>
<rect x="1257" y="463" width="38" height="14" fill="#a3cc1c"/>
<rect x="1294" y="463" width="20" height="14" fill="#3aa854"/>
<rect x="1313" y="463" width="39" height="14" fill="#66bc39"/>
<rect x="1351" y="463" width="20" height="14" fill="#cdd50e"/>
<rect x="1370" y="463" width="20" height="14" fill="#a3cc1c"/>
<rect x="1389" y="463" width="20" height="14" fill="#cdd50e"/>
<rect x="1427" y="463" width="19" height="14" fill="#a3cc1c"/>
<rect x="1445" y="463" width="20" height="14" fill="#cdd50e"/>
<rect x="1540" y="463" width="20" height="14" fill="#cdd50e"/>
<rect x="1616" y="463" width="19" height="14" fill="#a3cc1c"/>
<rect x="1634" y="463" width="39" height="14" fill="#cdd50e"/>
<rect x="1672" y="463" width="20" height="14" fill="#3aa854"/>
<rect x="1691" y="463" width="20" height="14" fill="#cdd50e"/>
<rect x="1710" y="463" width="20" height="14" fill="#a3cc1c"/>
<rect x="1767" y="463" width="20" height="14" fill="#cdd50e"/>
<rect x="501" y="449" width="20" height="15" fill="#cdd50e"/>
<rect x="671" y="449" width="20" height="15" fill="#cdd50e"/>
<rect x="727" y="449" width="20" height="15" fill="#cdd50e"/>
<rect x="992" y="449" width="20" height="15" fill="#66bc39"/>
<rect x="1124" y="449" width="20" height="15" fill="#cdd50e"/>
<rect x="1162" y="449" width="20" height="15" fill="#cdd50e"/>
<rect x="1200" y="449" width="20" height="15" fill="#cdd50e"/>
<rect x="1275" y="449" width="39" height="15" fill="#cdd50e"/>
<rect x="1313" y="449" width="20" height="15" fill="#66bc39"/>
<rect x="1332" y="449" width="58" height="15" fill="#a3cc1c"/>
<rect x="1540" y="449" width="20" height="15" fill="#cdd50e"/>
<rect x="1578" y="449" width="20" height="15" fill="#cdd50e"/>
<rect x="1616" y="449" width="19" height="15" fill="#cdd50e"/>
<rect x="1672" y="449" width="20" height="15" fill="#cdd50e"/>
<rect x="1691" y="449" width="20" height="15" fill="#a3cc1c"/>
<rect x="1710" y="449" width="39" height="15" fill="#cdd50e"/>
<rect x="595" y="435" width="20" height="15" fill="#cdd50e"/>
<rect x="765" y="435" width="20" height="15" fill="#cdd50e"/>
<rect x="898" y="435" width="19" height="15" fill="#cdd50e"/>
<rect x="935" y="435" width="20" height="15" fill="#cdd50e"/>
<rect x="1086" y="435" width="20" height="15" fill="#cdd50e"/>
<rect x="1238" y="435" width="20" height="15" fill="#cdd50e"/>
<rect x="1275" y="435" width="20" height="15" fill="#cdd50e"/>
<rect x="1294" y="435" width="20" height="15" fill="#a3cc1c"/>
<rect x="1351" y="435" width="20" height="15" fill="#cdd50e"/>
<rect x="1370" y="435" width="20" height="15" fill="#a3cc1c"/>
<rect x="1540" y="435" width="20" height="15" fill="#cdd50e"/>
<rect x="1672" y="435" width="39" height="15" fill="#cdd50e"/>
<rect x="1729" y="435" width="20" height="15" fill="#a3cc1c"/>
<rect x="1767" y="435" width="20" height="15" fill="#cdd50e"/>
<rect x="860" y="421" width="20" height="15" fill="#cdd50e"/>
<rect x="954" y="421" width="20" height="15" fill="#cdd50e"/>
<rect x="1086" y="421" width="20" height="15" fill="#cdd50e"/>
<rect x="1219" y="421" width="20" height="15" fill="#cdd50e"/>
<rect x="1294" y="421" width="20" height="15" fill="#a3cc1c"/>
<rect x="1332" y="421" width="20" height="15" fill="#cdd50e"/>
<rect x="1408" y="421" width="20" height="15" fill="#cdd50e"/>
<rect x="1559" y="421" width="20" height="15" fill="#cdd50e"/>
<rect x="1672" y="421" width="20" height="15" fill="#cdd50e"/>
<rect x="1691" y="421" width="20" height="15" fill="#a3cc1c"/>
<rect x="784" y="407" width="20" height="15" fill="#cdd50e"/>
<rect x="1068" y="407" width="19" height="15" fill="#a3cc1c"/>
<rect x="1162" y="407" width="20" height="15" fill="#cdd50e"/>
<rect x="1275" y="407" width="20" height="15" fill="#cdd50e"/>
<rect x="1332" y="407" width="20" height="15" fill="#cdd50e"/>
<rect x="1370" y="407" width="20" height="15" fill="#cdd50e"/>
<rect x="1408" y="407" width="20" height="15" fill="#cdd50e"/>
<rect x="1710" y="407" width="20" height="15" fill="#cdd50e"/>
<rect x="1786" y="407" width="19" height="15" fill="#cdd50e"/>
<rect x="539" y="394" width="38" height="14" fill="#cdd50e"/>
<rect x="576" y="380" width="20" height="15" fill="#cdd50e"/>
<rect x="841" y="380" width="20" height="15" fill="#a3cc1c"/>
<rect x="1049" y="380" width="20" height="15" fill="#cdd50e"/>
<rect x="1238" y="380" width="20" height="15" fill="#a3cc1c"/>
<rect x="1275" y="380" width="20" height="15" fill="#cdd50e"/>
<rect x="1332" y="380" width="20" height="15" fill="#cdd50e"/>
<rect x="539" y="366" width="19" height="15" fill="#cdd50e"/>
<rect x="652" y="366" width="20" height="15" fill="#cdd50e"/>
<rect x="690" y="366" width="20" height="15" fill="#cdd50e"/>
<rect x="1332" y="366" width="20" height="15" fill="#cdd50e"/>
<rect x="520" y="352" width="20" height="15" fill="#cdd50e"/>
<rect x="557" y="338" width="20" height="15" fill="#cdd50e"/>
<rect x="727" y="325" width="20" height="14" fill="#cdd50e"/>
<rect x="576" y="297" width="20" height="15" fill="#cdd50e"/>
<rect x="387" y="283" width="39" height="15" fill="#cdd50e"/>
<rect x="1672" y="270" width="20" height="14" fill="#cdd50e"/>
<rect x="860" y="201" width="20" height="14" fill="#cdd50e"/>
<rect x="387" y="187" width="20" height="15" fill="#a3cc1c"/>
<rect x="406" y="187" width="20" height="15" fill="#cdd50e"/>
<rect x="935" y="187" width="20" height="15" fill="#cdd50e"/>
</g>
<g shape-rendering="crispEdges">
<rect x="2138" y="1483" width="106.8" height="69" fill="#cdd50e"/>
<rect x="2138" y="1414" width="106.8" height="69" fill="#a3cc1c"/>
<rect x="2138" y="1345" width="106.8" height="69" fill="#81c42b"/>
<rect x="2138" y="1276" width="106.8" height="69" fill="#66bc39"/>
<rect x="2138" y="1207" width="106.8" height="69" fill="#4ab448"/>
<rect x="2138" y="1138" width="106.8" height="69" fill="#3aa854"/>
<rect x="2138" y="1069" width="106.8" height="69" fill="#2a9c60"/>
<rect x="2138" y="1000" width="106.8" height="69" fill="#229067"/>
<rect x="2138" y="931" width="106.8" height="69" fill="#1f836c"/>
<rect x="2138" y="862" width="106.8" height="69" fill="#1c7670"/>
<rect x="2138" y="794" width="106.8" height="68" fill="#1e6971"/>
<rect x="2138" y="725" width="106.8" height="69" fill="#205e72"/>
<rect x="2138" y="656" width="106.8" height="69" fill="#235172"/>
<rect x="2138" y="587" width="106.8" height="69" fill="#274471"/>
<rect x="2138" y="518" width="106.8" height="69" fill="#2b3770"/>
<rect x="2138" y="449" width="106.8" height="69" fill="#2e2b6a"/>
<rect x="2138" y="380" width="106.8" height="69" fill="#311f64"/>
<rect x="2138" y="311" width="106.8" height="69" fill="#2e1553"/>
<rect x="2138" y="242" width="106.8" height="69" fill="#240f38"/>
<rect x="2138" y="173" width="106.8" height="69" fill="#1a091e"/>
</g>
<g stroke="#000" stroke-width="3.7" fill="none" stroke-linecap="butt">
<rect x="237.0" y="173.0" width="1889.5" height="1379.0"/>
<path d="M237.0 1552.0V1511.0M315.7 1552.0V1531.5M394.5 1552.0V1531.5M473.2 1552.0V1531.5M551.9 1552.0V1511.0M630.6 1552.0V1531.5M709.4 1552.0V1531.5M788.1 1552.0V1531.5M866.8 1552.0V1511.0M945.6 1552.0V1531.5M1024.3 1552.0V1531.5M1103.0 1552.0V1531.5M1181.8 1552.0V1511.0M1260.5 1552.0V1531.5M1339.2 1552.0V1531.5M1417.9 1552.0V1531.5M1496.7 1552.0V1511.0M1575.4 1552.0V1531.5M1654.1 1552.0V1531.5M1732.9 1552.0V1531.5M1811.6 1552.0V1511.0M1890.3 1552.0V1531.5M1969.0 1552.0V1531.5M2047.8 1552.0V1531.5M2126.5 1552.0V1511.0M237.0 1552.0H293.3M237.0 1524.4H265.2M237.0 1496.8H265.2M237.0 1469.3H265.2M237.0 1441.7H265.2M237.0 1414.1H293.3M237.0 1386.5H265.2M237.0 1358.9H265.2M237.0 1331.4H265.2M237.0 1303.8H265.2M237.0 1276.2H293.3M237.0 1248.6H265.2M237.0 1221.0H265.2M237.0 1193.5H265.2M237.0 1165.9H265.2M237.0 1138.3H293.3M237.0 1110.7H265.2M237.0 1083.1H265.2M237.0 1055.6H265.2M237.0 1028.0H265.2M237.0 1000.4H293.3M237.0 972.8H265.2M237.0 945.2H265.2M237.0 917.7H265.2M237.0 890.1H265.2M237.0 862.5H293.3M237.0 834.9H265.2M237.0 807.3H265.2M237.0 779.8H265.2M237.0 752.2H265.2M237.0 724.6H293.3M237.0 697.0H265.2M237.0 669.4H265.2M237.0 641.9H265.2M237.0 614.3H265.2M237.0 586.7H293.3M237.0 559.1H265.2M237.0 531.5H265.2M237.0 504.0H265.2M237.0 476.4H265.2M237.0 448.8H293.3M237.0 421.2H265.2M237.0 393.6H265.2M237.0 366.1H265.2M237.0 338.5H265.2M237.0 310.9H293.3M237.0 283.3H265.2M237.0 255.7H265.2M237.0 228.2H265.2M237.0 200.6H265.2M237.0 173.0H293.3" stroke-width="3.7"/>
<path d="M2244.8 173.0V1552.0M2244.8 1552.0H2187.8M2244.8 1418.0H2216.3M2244.8 1339.5H2216.3M2244.8 1283.9H2216.3M2244.8 1240.7H2216.3M2244.8 1205.5H2216.3M2244.8 1175.7H2216.3M2244.8 1149.9H2216.3M2244.8 1127.1H2216.3M2244.8 1106.7H2187.8M2244.8 972.7H2216.3M2244.8 894.2H2216.3M2244.8 838.6H2216.3M2244.8 795.4H2216.3M2244.8 760.2H2216.3M2244.8 730.4H2216.3M2244.8 704.6H2216.3M2244.8 681.8H2216.3M2244.8 661.4H2187.8M2244.8 527.4H2216.3M2244.8 448.9H2216.3M2244.8 393.3H2216.3M2244.8 350.1H2216.3M2244.8 314.9H2216.3M2244.8 285.1H2216.3M2244.8 259.3H2216.3M2244.8 236.5H2216.3M2244.8 216.1H2187.8" stroke-width="3.5"/>
</g>
<text transform="translate(237.0,1608.5) scale(0.955,1)" font-size="60" text-anchor="middle">0</text>
<text transform="translate(551.9,1608.5) scale(0.955,1)" font-size="60" text-anchor="middle">200</text>
<text transform="translate(866.8,1608.5) scale(0.955,1)" font-size="60" text-anchor="middle">400</text>
<text transform="translate(1181.8,1608.5) scale(0.955,1)" font-size="60" text-anchor="middle">600</text>
<text transform="translate(1496.7,1608.5) scale(0.955,1)" font-size="60" text-anchor="middle">800</text>
<text transform="translate(1811.6,1608.5) scale(0.955,1)" font-size="60" text-anchor="middle">1000</text>
<text transform="translate(2126.5,1608.5) scale(0.955,1)" font-size="60" text-anchor="middle">1200</text>
<text transform="translate(224.0,1574.4) scale(0.955,1)" font-size="60" text-anchor="end">0</text>
<text transform="translate(224.0,1436.5) scale(0.955,1)" font-size="60" text-anchor="end">10</text>
<text transform="translate(224.0,1298.6) scale(0.955,1)" font-size="60" text-anchor="end">20</text>
<text transform="translate(224.0,1160.7) scale(0.955,1)" font-size="60" text-anchor="end">30</text>
<text transform="translate(224.0,1022.8) scale(0.955,1)" font-size="60" text-anchor="end">40</text>
<text transform="translate(224.0,884.9) scale(0.955,1)" font-size="60" text-anchor="end">50</text>
<text transform="translate(224.0,747.0) scale(0.955,1)" font-size="60" text-anchor="end">60</text>
<text transform="translate(224.0,609.1) scale(0.955,1)" font-size="60" text-anchor="end">70</text>
<text transform="translate(224.0,471.2) scale(0.955,1)" font-size="60" text-anchor="end">80</text>
<text transform="translate(224.0,333.3) scale(0.955,1)" font-size="60" text-anchor="end">90</text>
<text transform="translate(224.0,195.4) scale(0.955,1)" font-size="60" text-anchor="end">100</text>
<text transform="translate(2130.0,1660.5) scale(0.937,1)" font-size="60" text-anchor="end">E<tspan font-size="39" dy="14">tot</tspan><tspan dy="-14"> [MeV]</tspan></text>
<text transform="translate(119.3,172.5) rotate(-90)" font-size="61" text-anchor="end" textLength="960.5" lengthAdjust="spacingAndGlyphs">ΔE (Energy in foremost paddle) [MeV]</text>
<text transform="translate(2272.0,1574.7) scale(0.955,1)" font-size="60" text-anchor="start">1</text>
<text transform="translate(2272.0,1130.3) scale(0.93,1)" font-size="60" text-anchor="start">10</text>
<text transform="translate(2272.0,687.0) scale(0.93,1)" font-size="60" text-anchor="start">10<tspan font-size="39" dy="-25.8" dx="-2.5">2</tspan></text>
<text transform="translate(2272.0,241.7) scale(0.93,1)" font-size="60" text-anchor="start">10<tspan font-size="39" dy="-25.8" dx="-2.5">3</tspan></text>
<text transform="translate(1181.0,86.0) scale(0.931,1)" font-size="79.6" text-anchor="middle">ΔEE</text>
</svg></body></html>
